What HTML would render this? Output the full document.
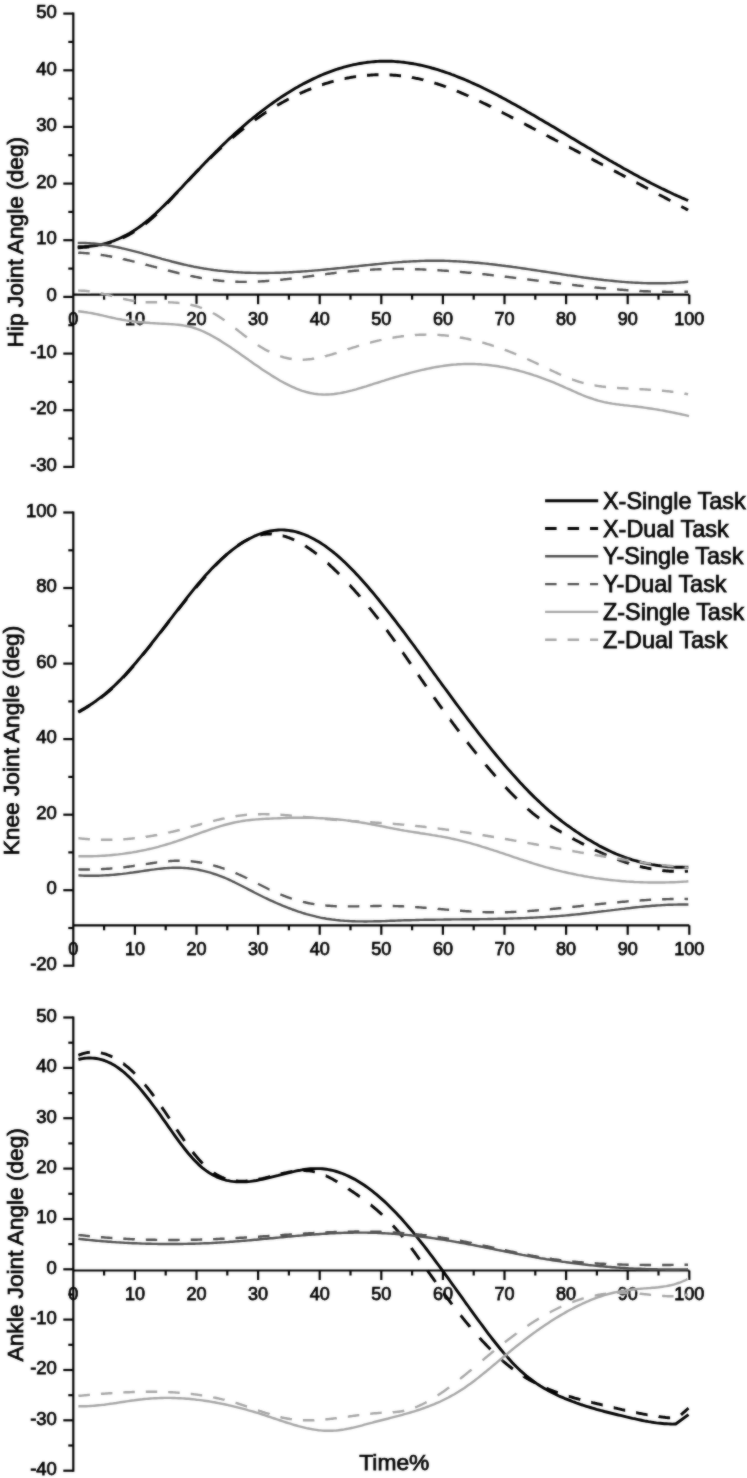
<!DOCTYPE html><html><head><meta charset="utf-8"><style>html,body{margin:0;padding:0;background:#fff;}body{width:747px;height:1478px;overflow:hidden;}svg{display:block;}text{font-family:"Liberation Sans",sans-serif;fill:#000;stroke:#000;stroke-width:0.75px;}</style></head><body>
<svg width="747" height="1478" viewBox="0 0 747 1478">
<defs><filter id="b" x="0" y="0" width="747" height="1478" filterUnits="userSpaceOnUse"><feGaussianBlur in="SourceGraphic" stdDeviation="0.8" result="bl"/><feComposite in="SourceGraphic" in2="bl" operator="arithmetic" k1="0" k2="0.5" k3="0.5" k4="0"/></filter></defs>
<rect width="747" height="1478" fill="#fff"/>
<g filter="url(#b)">
<g><line x1="73.3" y1="12.6" x2="73.3" y2="467.9" stroke="#000" stroke-width="2.2"/><line x1="63.3" y1="466.9" x2="73.3" y2="466.9" stroke="#000" stroke-width="2.2"/><text x="56.9" y="471.1" font-size="18.5" text-anchor="end">-30</text><line x1="68.3" y1="438.5" x2="73.3" y2="438.5" stroke="#000" stroke-width="2.2"/><line x1="63.3" y1="410.2" x2="73.3" y2="410.2" stroke="#000" stroke-width="2.2"/><text x="56.9" y="414.4" font-size="18.5" text-anchor="end">-20</text><line x1="68.3" y1="381.9" x2="73.3" y2="381.9" stroke="#000" stroke-width="2.2"/><line x1="63.3" y1="353.6" x2="73.3" y2="353.6" stroke="#000" stroke-width="2.2"/><text x="56.9" y="357.8" font-size="18.5" text-anchor="end">-10</text><line x1="68.3" y1="325.2" x2="73.3" y2="325.2" stroke="#000" stroke-width="2.2"/><line x1="63.3" y1="296.9" x2="73.3" y2="296.9" stroke="#000" stroke-width="2.2"/><text x="56.9" y="301.1" font-size="18.5" text-anchor="end">0</text><line x1="68.3" y1="268.6" x2="73.3" y2="268.6" stroke="#000" stroke-width="2.2"/><line x1="63.3" y1="240.2" x2="73.3" y2="240.2" stroke="#000" stroke-width="2.2"/><text x="56.9" y="244.4" font-size="18.5" text-anchor="end">10</text><line x1="68.3" y1="211.9" x2="73.3" y2="211.9" stroke="#000" stroke-width="2.2"/><line x1="63.3" y1="183.6" x2="73.3" y2="183.6" stroke="#000" stroke-width="2.2"/><text x="56.9" y="187.8" font-size="18.5" text-anchor="end">20</text><line x1="68.3" y1="155.2" x2="73.3" y2="155.2" stroke="#000" stroke-width="2.2"/><line x1="63.3" y1="126.9" x2="73.3" y2="126.9" stroke="#000" stroke-width="2.2"/><text x="56.9" y="131.1" font-size="18.5" text-anchor="end">30</text><line x1="68.3" y1="98.6" x2="73.3" y2="98.6" stroke="#000" stroke-width="2.2"/><line x1="63.3" y1="70.3" x2="73.3" y2="70.3" stroke="#000" stroke-width="2.2"/><text x="56.9" y="74.5" font-size="18.5" text-anchor="end">40</text><line x1="68.3" y1="41.9" x2="73.3" y2="41.9" stroke="#000" stroke-width="2.2"/><line x1="63.3" y1="13.6" x2="73.3" y2="13.6" stroke="#000" stroke-width="2.2"/><text x="56.9" y="17.8" font-size="18.5" text-anchor="end">50</text><line x1="73.3" y1="294.7" x2="689.3" y2="294.7" stroke="#000" stroke-width="2.2"/><line x1="104.1" y1="294.7" x2="104.1" y2="299.7" stroke="#000" stroke-width="2.2"/><line x1="134.9" y1="294.7" x2="134.9" y2="304.2" stroke="#000" stroke-width="2.2"/><line x1="165.7" y1="294.7" x2="165.7" y2="299.7" stroke="#000" stroke-width="2.2"/><line x1="196.5" y1="294.7" x2="196.5" y2="304.2" stroke="#000" stroke-width="2.2"/><line x1="227.3" y1="294.7" x2="227.3" y2="299.7" stroke="#000" stroke-width="2.2"/><line x1="258.1" y1="294.7" x2="258.1" y2="304.2" stroke="#000" stroke-width="2.2"/><line x1="288.9" y1="294.7" x2="288.9" y2="299.7" stroke="#000" stroke-width="2.2"/><line x1="319.7" y1="294.7" x2="319.7" y2="304.2" stroke="#000" stroke-width="2.2"/><line x1="350.5" y1="294.7" x2="350.5" y2="299.7" stroke="#000" stroke-width="2.2"/><line x1="381.3" y1="294.7" x2="381.3" y2="304.2" stroke="#000" stroke-width="2.2"/><line x1="412.1" y1="294.7" x2="412.1" y2="299.7" stroke="#000" stroke-width="2.2"/><line x1="442.9" y1="294.7" x2="442.9" y2="304.2" stroke="#000" stroke-width="2.2"/><line x1="473.7" y1="294.7" x2="473.7" y2="299.7" stroke="#000" stroke-width="2.2"/><line x1="504.5" y1="294.7" x2="504.5" y2="304.2" stroke="#000" stroke-width="2.2"/><line x1="535.3" y1="294.7" x2="535.3" y2="299.7" stroke="#000" stroke-width="2.2"/><line x1="566.1" y1="294.7" x2="566.1" y2="304.2" stroke="#000" stroke-width="2.2"/><line x1="596.9" y1="294.7" x2="596.9" y2="299.7" stroke="#000" stroke-width="2.2"/><line x1="627.7" y1="294.7" x2="627.7" y2="304.2" stroke="#000" stroke-width="2.2"/><line x1="658.5" y1="294.7" x2="658.5" y2="299.7" stroke="#000" stroke-width="2.2"/><line x1="689.3" y1="294.7" x2="689.3" y2="304.2" stroke="#000" stroke-width="2.2"/><text x="73.3" y="324.5" font-size="18" text-anchor="middle">0</text><text x="134.9" y="324.5" font-size="18" text-anchor="middle">10</text><text x="196.5" y="324.5" font-size="18" text-anchor="middle">20</text><text x="258.1" y="324.5" font-size="18" text-anchor="middle">30</text><text x="319.7" y="324.5" font-size="18" text-anchor="middle">40</text><text x="381.3" y="324.5" font-size="18" text-anchor="middle">50</text><text x="442.9" y="324.5" font-size="18" text-anchor="middle">60</text><text x="504.5" y="324.5" font-size="18" text-anchor="middle">70</text><text x="566.1" y="324.5" font-size="18" text-anchor="middle">80</text><text x="627.7" y="324.5" font-size="18" text-anchor="middle">90</text><text x="689.3" y="324.5" font-size="18" text-anchor="middle">100</text><text transform="translate(23.3,242.2) rotate(-90)" font-size="22.7" text-anchor="middle">Hip Joint Angle (deg)</text></g>
<g><line x1="73.3" y1="511.5" x2="73.3" y2="966.7" stroke="#000" stroke-width="2.2"/><line x1="63.3" y1="965.7" x2="73.3" y2="965.7" stroke="#000" stroke-width="2.2"/><text x="56.9" y="969.9" font-size="18.5" text-anchor="end">-20</text><line x1="68.3" y1="928.0" x2="73.3" y2="928.0" stroke="#000" stroke-width="2.2"/><line x1="63.3" y1="890.2" x2="73.3" y2="890.2" stroke="#000" stroke-width="2.2"/><text x="56.9" y="894.4" font-size="18.5" text-anchor="end">0</text><line x1="68.3" y1="852.4" x2="73.3" y2="852.4" stroke="#000" stroke-width="2.2"/><line x1="63.3" y1="814.7" x2="73.3" y2="814.7" stroke="#000" stroke-width="2.2"/><text x="56.9" y="818.9" font-size="18.5" text-anchor="end">20</text><line x1="68.3" y1="776.9" x2="73.3" y2="776.9" stroke="#000" stroke-width="2.2"/><line x1="63.3" y1="739.1" x2="73.3" y2="739.1" stroke="#000" stroke-width="2.2"/><text x="56.9" y="743.3" font-size="18.5" text-anchor="end">40</text><line x1="68.3" y1="701.4" x2="73.3" y2="701.4" stroke="#000" stroke-width="2.2"/><line x1="63.3" y1="663.6" x2="73.3" y2="663.6" stroke="#000" stroke-width="2.2"/><text x="56.9" y="667.8" font-size="18.5" text-anchor="end">60</text><line x1="68.3" y1="625.8" x2="73.3" y2="625.8" stroke="#000" stroke-width="2.2"/><line x1="63.3" y1="588.0" x2="73.3" y2="588.0" stroke="#000" stroke-width="2.2"/><text x="56.9" y="592.2" font-size="18.5" text-anchor="end">80</text><line x1="68.3" y1="550.3" x2="73.3" y2="550.3" stroke="#000" stroke-width="2.2"/><line x1="63.3" y1="512.5" x2="73.3" y2="512.5" stroke="#000" stroke-width="2.2"/><text x="56.9" y="516.7" font-size="18.5" text-anchor="end">100</text><line x1="73.3" y1="925.3" x2="689.3" y2="925.3" stroke="#000" stroke-width="2.2"/><line x1="104.1" y1="925.3" x2="104.1" y2="930.3" stroke="#000" stroke-width="2.2"/><line x1="134.9" y1="925.3" x2="134.9" y2="934.8" stroke="#000" stroke-width="2.2"/><line x1="165.7" y1="925.3" x2="165.7" y2="930.3" stroke="#000" stroke-width="2.2"/><line x1="196.5" y1="925.3" x2="196.5" y2="934.8" stroke="#000" stroke-width="2.2"/><line x1="227.3" y1="925.3" x2="227.3" y2="930.3" stroke="#000" stroke-width="2.2"/><line x1="258.1" y1="925.3" x2="258.1" y2="934.8" stroke="#000" stroke-width="2.2"/><line x1="288.9" y1="925.3" x2="288.9" y2="930.3" stroke="#000" stroke-width="2.2"/><line x1="319.7" y1="925.3" x2="319.7" y2="934.8" stroke="#000" stroke-width="2.2"/><line x1="350.5" y1="925.3" x2="350.5" y2="930.3" stroke="#000" stroke-width="2.2"/><line x1="381.3" y1="925.3" x2="381.3" y2="934.8" stroke="#000" stroke-width="2.2"/><line x1="412.1" y1="925.3" x2="412.1" y2="930.3" stroke="#000" stroke-width="2.2"/><line x1="442.9" y1="925.3" x2="442.9" y2="934.8" stroke="#000" stroke-width="2.2"/><line x1="473.7" y1="925.3" x2="473.7" y2="930.3" stroke="#000" stroke-width="2.2"/><line x1="504.5" y1="925.3" x2="504.5" y2="934.8" stroke="#000" stroke-width="2.2"/><line x1="535.3" y1="925.3" x2="535.3" y2="930.3" stroke="#000" stroke-width="2.2"/><line x1="566.1" y1="925.3" x2="566.1" y2="934.8" stroke="#000" stroke-width="2.2"/><line x1="596.9" y1="925.3" x2="596.9" y2="930.3" stroke="#000" stroke-width="2.2"/><line x1="627.7" y1="925.3" x2="627.7" y2="934.8" stroke="#000" stroke-width="2.2"/><line x1="658.5" y1="925.3" x2="658.5" y2="930.3" stroke="#000" stroke-width="2.2"/><line x1="689.3" y1="925.3" x2="689.3" y2="934.8" stroke="#000" stroke-width="2.2"/><text x="73.3" y="955.1" font-size="18" text-anchor="middle">0</text><text x="134.9" y="955.1" font-size="18" text-anchor="middle">10</text><text x="196.5" y="955.1" font-size="18" text-anchor="middle">20</text><text x="258.1" y="955.1" font-size="18" text-anchor="middle">30</text><text x="319.7" y="955.1" font-size="18" text-anchor="middle">40</text><text x="381.3" y="955.1" font-size="18" text-anchor="middle">50</text><text x="442.9" y="955.1" font-size="18" text-anchor="middle">60</text><text x="504.5" y="955.1" font-size="18" text-anchor="middle">70</text><text x="566.1" y="955.1" font-size="18" text-anchor="middle">80</text><text x="627.7" y="955.1" font-size="18" text-anchor="middle">90</text><text x="689.3" y="955.1" font-size="18" text-anchor="middle">100</text><text transform="translate(19.0,740.5) rotate(-90)" font-size="22.7" text-anchor="middle">Knee Joint Angle (deg)</text></g>
<g><line x1="73.3" y1="1016.5" x2="73.3" y2="1471.7" stroke="#000" stroke-width="2.2"/><line x1="63.3" y1="1470.7" x2="73.3" y2="1470.7" stroke="#000" stroke-width="2.2"/><text x="56.9" y="1474.9" font-size="18.5" text-anchor="end">-40</text><line x1="68.3" y1="1445.5" x2="73.3" y2="1445.5" stroke="#000" stroke-width="2.2"/><line x1="63.3" y1="1420.3" x2="73.3" y2="1420.3" stroke="#000" stroke-width="2.2"/><text x="56.9" y="1424.5" font-size="18.5" text-anchor="end">-30</text><line x1="68.3" y1="1395.2" x2="73.3" y2="1395.2" stroke="#000" stroke-width="2.2"/><line x1="63.3" y1="1370.0" x2="73.3" y2="1370.0" stroke="#000" stroke-width="2.2"/><text x="56.9" y="1374.2" font-size="18.5" text-anchor="end">-20</text><line x1="68.3" y1="1344.8" x2="73.3" y2="1344.8" stroke="#000" stroke-width="2.2"/><line x1="63.3" y1="1319.6" x2="73.3" y2="1319.6" stroke="#000" stroke-width="2.2"/><text x="56.9" y="1323.8" font-size="18.5" text-anchor="end">-10</text><line x1="68.3" y1="1294.5" x2="73.3" y2="1294.5" stroke="#000" stroke-width="2.2"/><line x1="63.3" y1="1269.3" x2="73.3" y2="1269.3" stroke="#000" stroke-width="2.2"/><text x="56.9" y="1273.5" font-size="18.5" text-anchor="end">0</text><line x1="68.3" y1="1244.1" x2="73.3" y2="1244.1" stroke="#000" stroke-width="2.2"/><line x1="63.3" y1="1219.0" x2="73.3" y2="1219.0" stroke="#000" stroke-width="2.2"/><text x="56.9" y="1223.2" font-size="18.5" text-anchor="end">10</text><line x1="68.3" y1="1193.8" x2="73.3" y2="1193.8" stroke="#000" stroke-width="2.2"/><line x1="63.3" y1="1168.6" x2="73.3" y2="1168.6" stroke="#000" stroke-width="2.2"/><text x="56.9" y="1172.8" font-size="18.5" text-anchor="end">20</text><line x1="68.3" y1="1143.4" x2="73.3" y2="1143.4" stroke="#000" stroke-width="2.2"/><line x1="63.3" y1="1118.2" x2="73.3" y2="1118.2" stroke="#000" stroke-width="2.2"/><text x="56.9" y="1122.5" font-size="18.5" text-anchor="end">30</text><line x1="68.3" y1="1093.1" x2="73.3" y2="1093.1" stroke="#000" stroke-width="2.2"/><line x1="63.3" y1="1067.9" x2="73.3" y2="1067.9" stroke="#000" stroke-width="2.2"/><text x="56.9" y="1072.1" font-size="18.5" text-anchor="end">40</text><line x1="68.3" y1="1042.7" x2="73.3" y2="1042.7" stroke="#000" stroke-width="2.2"/><line x1="63.3" y1="1017.5" x2="73.3" y2="1017.5" stroke="#000" stroke-width="2.2"/><text x="56.9" y="1021.8" font-size="18.5" text-anchor="end">50</text><line x1="73.3" y1="1270.5" x2="689.3" y2="1270.5" stroke="#000" stroke-width="2.2"/><line x1="104.1" y1="1270.5" x2="104.1" y2="1275.5" stroke="#000" stroke-width="2.2"/><line x1="134.9" y1="1270.5" x2="134.9" y2="1280.0" stroke="#000" stroke-width="2.2"/><line x1="165.7" y1="1270.5" x2="165.7" y2="1275.5" stroke="#000" stroke-width="2.2"/><line x1="196.5" y1="1270.5" x2="196.5" y2="1280.0" stroke="#000" stroke-width="2.2"/><line x1="227.3" y1="1270.5" x2="227.3" y2="1275.5" stroke="#000" stroke-width="2.2"/><line x1="258.1" y1="1270.5" x2="258.1" y2="1280.0" stroke="#000" stroke-width="2.2"/><line x1="288.9" y1="1270.5" x2="288.9" y2="1275.5" stroke="#000" stroke-width="2.2"/><line x1="319.7" y1="1270.5" x2="319.7" y2="1280.0" stroke="#000" stroke-width="2.2"/><line x1="350.5" y1="1270.5" x2="350.5" y2="1275.5" stroke="#000" stroke-width="2.2"/><line x1="381.3" y1="1270.5" x2="381.3" y2="1280.0" stroke="#000" stroke-width="2.2"/><line x1="412.1" y1="1270.5" x2="412.1" y2="1275.5" stroke="#000" stroke-width="2.2"/><line x1="442.9" y1="1270.5" x2="442.9" y2="1280.0" stroke="#000" stroke-width="2.2"/><line x1="473.7" y1="1270.5" x2="473.7" y2="1275.5" stroke="#000" stroke-width="2.2"/><line x1="504.5" y1="1270.5" x2="504.5" y2="1280.0" stroke="#000" stroke-width="2.2"/><line x1="535.3" y1="1270.5" x2="535.3" y2="1275.5" stroke="#000" stroke-width="2.2"/><line x1="566.1" y1="1270.5" x2="566.1" y2="1280.0" stroke="#000" stroke-width="2.2"/><line x1="596.9" y1="1270.5" x2="596.9" y2="1275.5" stroke="#000" stroke-width="2.2"/><line x1="627.7" y1="1270.5" x2="627.7" y2="1280.0" stroke="#000" stroke-width="2.2"/><line x1="658.5" y1="1270.5" x2="658.5" y2="1275.5" stroke="#000" stroke-width="2.2"/><line x1="689.3" y1="1270.5" x2="689.3" y2="1280.0" stroke="#000" stroke-width="2.2"/><text x="73.3" y="1300.3" font-size="18" text-anchor="middle">0</text><text x="134.9" y="1300.3" font-size="18" text-anchor="middle">10</text><text x="196.5" y="1300.3" font-size="18" text-anchor="middle">20</text><text x="258.1" y="1300.3" font-size="18" text-anchor="middle">30</text><text x="319.7" y="1300.3" font-size="18" text-anchor="middle">40</text><text x="381.3" y="1300.3" font-size="18" text-anchor="middle">50</text><text x="442.9" y="1300.3" font-size="18" text-anchor="middle">60</text><text x="504.5" y="1300.3" font-size="18" text-anchor="middle">70</text><text x="566.1" y="1300.3" font-size="18" text-anchor="middle">80</text><text x="627.7" y="1300.3" font-size="18" text-anchor="middle">90</text><text x="689.3" y="1300.3" font-size="18" text-anchor="middle">100</text><text transform="translate(23.3,1244.8) rotate(-90)" font-size="22.7" text-anchor="middle">Ankle Joint Angle (deg)</text></g>
<path d="M77.7,246.6 L79.7,246.6 L81.7,246.6 L83.7,246.6 L85.7,246.5 L87.7,246.4 L89.7,246.2 L91.7,246.0 L93.7,245.8 L95.7,245.5 L97.7,245.2 L99.7,244.8 L101.7,244.4 L103.7,243.9 L105.7,243.4 L107.7,242.8 L109.7,242.2 L111.7,241.5 L113.7,240.8 L115.7,240.0 L117.7,239.2 L119.7,238.3 L121.7,237.4 L123.7,236.4 L125.7,235.4 L127.7,234.3 L129.7,233.2 L131.7,232.0 L133.7,230.8 L135.7,229.5 L137.7,228.1 L139.7,226.7 L141.7,225.3 L143.7,223.7 L145.7,222.1 L147.7,220.5 L149.7,218.8 L151.7,217.1 L153.7,215.3 L155.7,213.5 L157.7,211.6 L159.7,209.7 L161.7,207.8 L163.7,205.9 L165.7,203.9 L167.7,201.9 L169.7,199.8 L171.7,197.8 L173.7,195.7 L175.7,193.6 L177.7,191.6 L179.7,189.5 L181.7,187.4 L183.7,185.2 L185.7,183.1 L187.7,181.0 L189.7,178.9 L191.7,176.8 L193.7,174.7 L195.7,172.6 L197.7,170.5 L199.7,168.4 L201.7,166.3 L203.7,164.2 L205.7,162.1 L207.7,160.1 L209.7,158.0 L211.7,156.0 L213.7,154.0 L215.7,151.9 L217.7,150.0 L219.7,148.0 L221.7,146.0 L223.7,144.1 L225.7,142.2 L227.7,140.3 L229.7,138.4 L231.7,136.6 L233.7,134.7 L235.7,132.9 L237.7,131.1 L239.7,129.3 L241.7,127.6 L243.7,125.8 L245.7,124.1 L247.7,122.4 L249.7,120.7 L251.7,119.1 L253.7,117.4 L255.7,115.8 L257.7,114.2 L259.7,112.7 L261.7,111.1 L263.7,109.6 L265.7,108.1 L267.7,106.6 L269.7,105.1 L271.7,103.7 L273.7,102.3 L275.7,100.9 L277.7,99.5 L279.7,98.1 L281.7,96.8 L283.7,95.5 L285.7,94.2 L287.7,92.9 L289.7,91.7 L291.7,90.5 L293.7,89.3 L295.7,88.1 L297.7,87.0 L299.7,85.8 L301.7,84.7 L303.7,83.6 L305.7,82.6 L307.7,81.6 L309.7,80.6 L311.7,79.6 L313.7,78.6 L315.7,77.7 L317.7,76.8 L319.7,75.9 L321.7,75.0 L323.7,74.2 L325.7,73.4 L327.7,72.6 L329.7,71.8 L331.7,71.1 L333.7,70.4 L335.7,69.7 L337.7,69.0 L339.7,68.4 L341.7,67.8 L343.7,67.2 L345.7,66.7 L347.7,66.1 L349.7,65.6 L351.7,65.2 L353.7,64.7 L355.7,64.3 L357.7,63.9 L359.7,63.5 L361.7,63.2 L363.7,62.9 L365.7,62.6 L367.7,62.3 L369.7,62.1 L371.7,61.9 L373.7,61.7 L375.7,61.5 L377.7,61.4 L379.7,61.3 L381.7,61.3 L383.7,61.2 L385.7,61.2 L387.7,61.2 L389.7,61.3 L391.7,61.3 L393.7,61.4 L395.7,61.6 L397.7,61.7 L399.7,61.9 L401.7,62.1 L403.7,62.3 L405.7,62.6 L407.7,62.9 L409.7,63.2 L411.7,63.5 L413.7,63.8 L415.7,64.2 L417.7,64.6 L419.7,65.0 L421.7,65.4 L423.7,65.9 L425.7,66.4 L427.7,66.9 L429.7,67.4 L431.7,68.0 L433.7,68.5 L435.7,69.1 L437.7,69.7 L439.7,70.3 L441.7,71.0 L443.7,71.6 L445.7,72.3 L447.7,73.0 L449.7,73.7 L451.7,74.5 L453.7,75.2 L455.7,76.0 L457.7,76.8 L459.7,77.6 L461.7,78.4 L463.7,79.2 L465.7,80.0 L467.7,80.9 L469.7,81.8 L471.7,82.7 L473.7,83.6 L475.7,84.5 L477.7,85.4 L479.7,86.3 L481.7,87.3 L483.7,88.3 L485.7,89.2 L487.7,90.2 L489.7,91.2 L491.7,92.2 L493.7,93.3 L495.7,94.3 L497.7,95.3 L499.7,96.4 L501.7,97.4 L503.7,98.5 L505.7,99.6 L507.7,100.7 L509.7,101.8 L511.7,102.9 L513.7,104.0 L515.7,105.1 L517.7,106.2 L519.7,107.3 L521.7,108.5 L523.7,109.6 L525.7,110.7 L527.7,111.9 L529.7,113.0 L531.7,114.2 L533.7,115.3 L535.7,116.5 L537.7,117.7 L539.7,118.9 L541.7,120.0 L543.7,121.2 L545.7,122.4 L547.7,123.6 L549.7,124.8 L551.7,125.9 L553.7,127.1 L555.7,128.3 L557.7,129.5 L559.7,130.7 L561.7,131.9 L563.7,133.1 L565.7,134.3 L567.7,135.5 L569.7,136.7 L571.7,137.9 L573.7,139.1 L575.7,140.3 L577.7,141.5 L579.7,142.7 L581.7,143.9 L583.7,145.1 L585.7,146.3 L587.7,147.5 L589.7,148.6 L591.7,149.8 L593.7,151.0 L595.7,152.2 L597.7,153.4 L599.7,154.6 L601.7,155.7 L603.7,156.9 L605.7,158.1 L607.7,159.2 L609.7,160.4 L611.7,161.5 L613.7,162.7 L615.7,163.8 L617.7,165.0 L619.7,166.1 L621.7,167.2 L623.7,168.4 L625.7,169.5 L627.7,170.6 L629.7,171.7 L631.7,172.8 L633.7,173.9 L635.7,175.0 L637.7,176.1 L639.7,177.2 L641.7,178.2 L643.7,179.3 L645.7,180.3 L647.7,181.4 L649.7,182.4 L651.7,183.5 L653.7,184.5 L655.7,185.5 L657.7,186.5 L659.7,187.5 L661.7,188.5 L663.7,189.4 L665.7,190.4 L667.7,191.4 L669.7,192.3 L671.7,193.2 L673.7,194.2 L675.7,195.1 L677.7,196.0 L679.7,196.9 L681.7,197.8 L683.7,198.6 L685.7,199.5 L687.7,200.3 L688.1,200.5" fill="none" stroke="#050505" stroke-width="2.9" stroke-linejoin="round"/>
<path d="M77.7,247.8 L78.2,247.8 L79.2,247.7 L80.2,247.7 L81.2,247.6 L82.2,247.5 L83.2,247.4 L84.2,247.4 L85.2,247.3 L86.2,247.2 L87.2,247.1 L88.2,247.0 L89.2,246.8M100.2,245.1 L100.2,245.1 L101.2,244.9 L102.2,244.6 L103.2,244.4 L104.2,244.2 L105.2,243.9 L106.2,243.7 L107.2,243.4 L108.2,243.1 L109.2,242.8 L110.2,242.5 L111.2,242.2 L111.7,242.1M122.6,237.9 L122.7,237.8 L123.7,237.4 L124.7,236.9 L125.7,236.4 L126.7,235.9 L127.7,235.4 L128.7,234.9 L129.7,234.3 L130.7,233.7 L131.7,233.2 L132.7,232.6 L133.7,232.0 L134.1,231.7M145.1,224.1 L145.2,224.0 L146.2,223.2 L147.2,222.4 L148.2,221.6 L149.2,220.7 L150.2,219.9 L151.2,219.0 L152.2,218.1 L153.2,217.3 L154.2,216.3 L155.2,215.4 L156.2,214.5 L156.6,214.1M167.2,203.2 L167.7,202.7 L168.7,201.6 L169.7,200.6 L170.7,199.5 L171.7,198.4 L172.7,197.3 L173.7,196.2 L174.7,195.1 L175.7,194.0 L176.7,192.9 L177.7,191.8 L177.8,191.7M187.9,180.8 L188.2,180.5 L189.2,179.5 L190.2,178.4 L191.2,177.4 L192.2,176.3 L193.2,175.3 L194.2,174.2 L195.2,173.2 L196.2,172.1 L197.2,171.1 L198.2,170.1 L199.0,169.3M209.9,158.4 L210.2,158.1 L211.2,157.1 L212.2,156.1 L213.2,155.2 L214.2,154.2 L215.2,153.3 L216.2,152.3 L217.2,151.4 L218.2,150.5 L219.2,149.5 L220.2,148.6 L221.2,147.7 L221.4,147.5M232.3,137.8 L232.7,137.5 L233.7,136.6 L234.7,135.8 L235.7,134.9 L236.7,134.1 L237.7,133.3 L238.7,132.5 L239.7,131.6 L240.7,130.8 L241.7,130.0 L242.7,129.2 L243.7,128.5 L243.8,128.4M254.8,120.1 L255.2,119.8 L256.2,119.1 L257.2,118.4 L258.2,117.7 L259.2,117.0 L260.2,116.3 L261.2,115.6 L262.2,114.9 L263.2,114.2 L264.2,113.6 L265.2,112.9 L266.2,112.2 L266.3,112.2M277.2,105.4 L277.7,105.1 L278.7,104.5 L279.7,103.9 L280.7,103.4 L281.7,102.8 L282.7,102.2 L283.7,101.7 L284.7,101.1 L285.7,100.6 L286.7,100.1 L287.7,99.5 L288.7,99.0 L288.7,99.0M299.7,93.6 L299.7,93.6 L300.7,93.1 L301.7,92.7 L302.7,92.2 L303.7,91.8 L304.7,91.4 L305.7,90.9 L306.7,90.5 L307.7,90.1 L308.7,89.7 L309.7,89.3 L310.7,88.9 L311.2,88.7M322.1,84.7 L322.2,84.7 L323.2,84.3 L324.2,84.0 L325.2,83.7 L326.2,83.4 L327.2,83.1 L328.2,82.8 L329.2,82.5 L330.2,82.2 L331.2,81.9 L332.2,81.6 L333.2,81.3 L333.6,81.2M344.6,78.6 L344.7,78.6 L345.7,78.4 L346.7,78.2 L347.7,78.0 L348.7,77.8 L349.7,77.6 L350.7,77.4 L351.7,77.2 L352.7,77.1 L353.7,76.9 L354.7,76.8 L355.7,76.6 L356.1,76.6M367.0,75.3 L367.2,75.3 L368.2,75.2 L369.2,75.2 L370.2,75.1 L371.2,75.0 L372.2,75.0 L373.2,74.9 L374.2,74.9 L375.2,74.8 L376.2,74.8 L377.2,74.8 L378.2,74.8 L378.5,74.8M389.5,74.9 L389.7,74.9 L390.7,75.0 L391.7,75.0 L392.7,75.1 L393.7,75.2 L394.7,75.2 L395.7,75.3 L396.7,75.4 L397.7,75.5 L398.7,75.6 L399.7,75.7 L400.7,75.8 L401.0,75.8M411.9,77.4 L412.2,77.5 L413.2,77.7 L414.2,77.9 L415.2,78.1 L416.2,78.3 L417.2,78.5 L418.2,78.7 L419.2,78.9 L420.2,79.1 L421.2,79.4 L422.2,79.6 L423.2,79.8 L423.4,79.9M434.4,82.9 L434.7,83.0 L435.7,83.4 L436.7,83.7 L437.7,84.0 L438.7,84.3 L439.7,84.6 L440.7,85.0 L441.7,85.3 L442.7,85.7 L443.7,86.0 L444.7,86.4 L445.7,86.7 L445.9,86.8M456.8,91.0 L457.2,91.2 L458.2,91.6 L459.2,92.0 L460.2,92.4 L461.2,92.9 L462.2,93.3 L463.2,93.7 L464.2,94.2 L465.2,94.6 L466.2,95.0 L467.2,95.5 L468.2,95.9 L468.3,96.0M479.3,101.0 L479.7,101.2 L480.7,101.7 L481.7,102.2 L482.7,102.7 L483.7,103.2 L484.7,103.7 L485.7,104.1 L486.7,104.6 L487.7,105.1 L488.7,105.6 L489.7,106.1 L490.7,106.6 L490.8,106.7M501.7,112.2 L502.2,112.4 L503.2,113.0 L504.2,113.5 L505.2,114.0 L506.2,114.5 L507.2,115.0 L508.2,115.5 L509.2,116.0 L510.2,116.6 L511.2,117.1 L512.2,117.6 L513.2,118.1 L513.2,118.1M524.2,123.8 L524.2,123.8 L525.2,124.3 L526.2,124.8 L527.2,125.4 L528.2,125.9 L529.2,126.4 L530.2,126.9 L531.2,127.4 L532.2,128.0 L533.2,128.5 L534.2,129.0 L535.2,129.5 L535.7,129.8M546.6,135.4 L546.7,135.5 L547.7,136.0 L548.7,136.5 L549.7,137.1 L550.7,137.6 L551.7,138.1 L552.7,138.6 L553.7,139.1 L554.7,139.7 L555.7,140.2 L556.7,140.7 L557.7,141.2 L558.1,141.4M569.1,147.2 L569.2,147.2 L570.2,147.7 L571.2,148.3 L572.2,148.8 L573.2,149.3 L574.2,149.8 L575.2,150.4 L576.2,150.9 L577.2,151.4 L578.2,151.9 L579.2,152.5 L580.2,153.0 L580.6,153.2M591.5,158.9 L591.7,159.0 L592.7,159.5 L593.7,160.1 L594.7,160.6 L595.7,161.1 L596.7,161.6 L597.7,162.2 L598.7,162.7 L599.7,163.2 L600.7,163.7 L601.7,164.3 L602.7,164.8 L603.0,164.9M614.0,170.7 L614.2,170.8 L615.2,171.4 L616.2,171.9 L617.2,172.4 L618.2,172.9 L619.2,173.5 L620.2,174.0 L621.2,174.5 L622.2,175.1 L623.2,175.6 L624.2,176.1 L625.2,176.6 L625.5,176.8M636.4,182.6 L636.7,182.7 L637.7,183.3 L638.7,183.8 L639.7,184.3 L640.7,184.8 L641.7,185.4 L642.7,185.9 L643.7,186.4 L644.7,187.0 L645.7,187.5 L646.7,188.0 L647.7,188.6 L647.9,188.7M658.9,194.5 L659.2,194.7 L660.2,195.2 L661.2,195.7 L662.2,196.3 L663.2,196.8 L664.2,197.3 L665.2,197.9 L666.2,198.4 L667.2,198.9 L668.2,199.5 L669.2,200.0 L670.2,200.5 L670.4,200.6M681.3,206.5 L681.7,206.7 L682.7,207.2 L683.7,207.8 L684.7,208.3 L685.7,208.8 L686.7,209.4 L687.7,209.9 L688.0,210.1" fill="none" stroke="#050505" stroke-width="2.9" stroke-linejoin="round" stroke-linecap="butt"/>
<path d="M77.7,242.9 L79.7,242.9 L81.7,242.9 L83.7,242.9 L85.7,243.0 L87.7,243.1 L89.7,243.2 L91.7,243.4 L93.7,243.5 L95.7,243.7 L97.7,243.9 L99.7,244.2 L101.7,244.4 L103.7,244.7 L105.7,245.0 L107.7,245.4 L109.7,245.7 L111.7,246.1 L113.7,246.5 L115.7,246.9 L117.7,247.3 L119.7,247.7 L121.7,248.2 L123.7,248.6 L125.7,249.1 L127.7,249.6 L129.7,250.1 L131.7,250.6 L133.7,251.1 L135.7,251.6 L137.7,252.1 L139.7,252.7 L141.7,253.2 L143.7,253.8 L145.7,254.3 L147.7,254.9 L149.7,255.4 L151.7,256.0 L153.7,256.5 L155.7,257.1 L157.7,257.7 L159.7,258.2 L161.7,258.8 L163.7,259.3 L165.7,259.9 L167.7,260.4 L169.7,260.9 L171.7,261.5 L173.7,262.0 L175.7,262.5 L177.7,263.0 L179.7,263.5 L181.7,264.0 L183.7,264.5 L185.7,264.9 L187.7,265.4 L189.7,265.8 L191.7,266.2 L193.7,266.7 L195.7,267.0 L197.7,267.4 L199.7,267.8 L201.7,268.1 L203.7,268.5 L205.7,268.8 L207.7,269.1 L209.7,269.4 L211.7,269.7 L213.7,270.0 L215.7,270.2 L217.7,270.5 L219.7,270.7 L221.7,270.9 L223.7,271.1 L225.7,271.3 L227.7,271.5 L229.7,271.7 L231.7,271.8 L233.7,272.0 L235.7,272.1 L237.7,272.2 L239.7,272.4 L241.7,272.5 L243.7,272.6 L245.7,272.7 L247.7,272.7 L249.7,272.8 L251.7,272.9 L253.7,272.9 L255.7,272.9 L257.7,273.0 L259.7,273.0 L261.7,273.0 L263.7,273.0 L265.7,273.0 L267.7,273.0 L269.7,272.9 L271.7,272.9 L273.7,272.9 L275.7,272.8 L277.7,272.8 L279.7,272.7 L281.7,272.6 L283.7,272.5 L285.7,272.5 L287.7,272.4 L289.7,272.3 L291.7,272.2 L293.7,272.0 L295.7,271.9 L297.7,271.8 L299.7,271.7 L301.7,271.5 L303.7,271.4 L305.7,271.2 L307.7,271.1 L309.7,270.9 L311.7,270.8 L313.7,270.6 L315.7,270.4 L317.7,270.3 L319.7,270.1 L321.7,269.9 L323.7,269.7 L325.7,269.5 L327.7,269.3 L329.7,269.1 L331.7,268.9 L333.7,268.7 L335.7,268.5 L337.7,268.3 L339.7,268.1 L341.7,267.9 L343.7,267.7 L345.7,267.5 L347.7,267.2 L349.7,267.0 L351.7,266.8 L353.7,266.6 L355.7,266.4 L357.7,266.2 L359.7,265.9 L361.7,265.7 L363.7,265.5 L365.7,265.3 L367.7,265.1 L369.7,264.9 L371.7,264.7 L373.7,264.5 L375.7,264.3 L377.7,264.1 L379.7,263.9 L381.7,263.7 L383.7,263.5 L385.7,263.3 L387.7,263.1 L389.7,262.9 L391.7,262.8 L393.7,262.6 L395.7,262.4 L397.7,262.3 L399.7,262.1 L401.7,262.0 L403.7,261.8 L405.7,261.7 L407.7,261.6 L409.7,261.5 L411.7,261.4 L413.7,261.3 L415.7,261.2 L417.7,261.1 L419.7,261.0 L421.7,260.9 L423.7,260.9 L425.7,260.8 L427.7,260.8 L429.7,260.8 L431.7,260.7 L433.7,260.7 L435.7,260.7 L437.7,260.7 L439.7,260.7 L441.7,260.8 L443.7,260.8 L445.7,260.9 L447.7,260.9 L449.7,261.0 L451.7,261.1 L453.7,261.2 L455.7,261.3 L457.7,261.4 L459.7,261.5 L461.7,261.6 L463.7,261.7 L465.7,261.9 L467.7,262.0 L469.7,262.2 L471.7,262.3 L473.7,262.5 L475.7,262.7 L477.7,262.8 L479.7,263.0 L481.7,263.2 L483.7,263.4 L485.7,263.6 L487.7,263.8 L489.7,264.1 L491.7,264.3 L493.7,264.5 L495.7,264.7 L497.7,265.0 L499.7,265.2 L501.7,265.5 L503.7,265.7 L505.7,266.0 L507.7,266.2 L509.7,266.5 L511.7,266.8 L513.7,267.1 L515.7,267.3 L517.7,267.6 L519.7,267.9 L521.7,268.2 L523.7,268.5 L525.7,268.8 L527.7,269.1 L529.7,269.4 L531.7,269.7 L533.7,270.0 L535.7,270.3 L537.7,270.6 L539.7,270.9 L541.7,271.2 L543.7,271.5 L545.7,271.8 L547.7,272.1 L549.7,272.4 L551.7,272.7 L553.7,273.0 L555.7,273.3 L557.7,273.6 L559.7,273.9 L561.7,274.3 L563.7,274.6 L565.7,274.9 L567.7,275.2 L569.7,275.4 L571.7,275.7 L573.7,276.0 L575.7,276.3 L577.7,276.6 L579.7,276.9 L581.7,277.2 L583.7,277.5 L585.7,277.7 L587.7,278.0 L589.7,278.3 L591.7,278.5 L593.7,278.8 L595.7,279.0 L597.7,279.3 L599.7,279.5 L601.7,279.7 L603.7,280.0 L605.7,280.2 L607.7,280.4 L609.7,280.6 L611.7,280.8 L613.7,281.0 L615.7,281.2 L617.7,281.4 L619.7,281.6 L621.7,281.8 L623.7,281.9 L625.7,282.1 L627.7,282.2 L629.7,282.4 L631.7,282.5 L633.7,282.6 L635.7,282.7 L637.7,282.8 L639.7,282.9 L641.7,283.0 L643.7,283.1 L645.7,283.1 L647.7,283.2 L649.7,283.2 L651.7,283.3 L653.7,283.3 L655.7,283.3 L657.7,283.3 L659.7,283.3 L661.7,283.3 L663.7,283.2 L665.7,283.2 L667.7,283.1 L669.7,283.1 L671.7,283.0 L673.7,282.9 L675.7,282.8 L677.7,282.6 L679.7,282.5 L681.7,282.4 L683.7,282.2 L685.7,282.0 L687.7,281.8 L688.2,281.8" fill="none" stroke="#505050" stroke-width="2.4" stroke-linejoin="round"/>
<path d="M78.2,252.7 L78.7,252.8 L79.7,252.8 L80.7,252.8 L81.7,252.9 L82.7,252.9 L83.7,253.0 L84.7,253.1 L85.7,253.1 L86.7,253.2 L87.7,253.3 L88.7,253.4 L89.7,253.5M100.7,254.8 L100.7,254.8 L101.7,255.0 L102.7,255.1 L103.7,255.3 L104.7,255.4 L105.7,255.6 L106.7,255.8 L107.7,256.0 L108.7,256.1 L109.7,256.3 L110.7,256.5 L111.7,256.7 L112.2,256.8M123.1,259.0 L123.2,259.1 L124.2,259.3 L125.2,259.5 L126.2,259.7 L127.2,260.0 L128.2,260.2 L129.2,260.4 L130.2,260.7 L131.2,260.9 L132.2,261.2 L133.2,261.4 L134.2,261.7 L134.6,261.8M145.6,264.5 L145.7,264.6 L146.7,264.8 L147.7,265.1 L148.7,265.4 L149.7,265.6 L150.7,265.9 L151.7,266.2 L152.7,266.4 L153.7,266.7 L154.7,266.9 L155.7,267.2 L156.7,267.5 L157.1,267.6M168.0,270.4 L168.2,270.5 L169.2,270.7 L170.2,271.0 L171.2,271.3 L172.2,271.5 L173.2,271.8 L174.2,272.0 L175.2,272.3 L176.2,272.5 L177.2,272.8 L178.2,273.0 L179.2,273.3 L179.5,273.3M190.4,275.8 L190.7,275.9 L191.7,276.1 L192.7,276.3 L193.7,276.5 L194.7,276.7 L195.7,276.9 L196.7,277.1 L197.7,277.3 L198.7,277.5 L199.7,277.7 L200.7,277.9 L201.7,278.1 L201.9,278.1M212.9,279.9 L213.2,279.9 L214.2,280.1 L215.2,280.2 L216.2,280.3 L217.2,280.4 L218.2,280.5 L219.2,280.7 L220.2,280.8 L221.2,280.9 L222.2,281.0 L223.2,281.0 L224.2,281.1 L224.4,281.1M235.3,281.8 L235.7,281.8 L236.7,281.8 L237.7,281.8 L238.7,281.9 L239.7,281.9 L240.7,281.9 L241.7,281.9 L242.7,281.9 L243.7,281.9 L244.7,281.9 L245.7,281.9 L246.7,281.9 L246.8,281.9M257.8,281.5 L258.2,281.5 L259.2,281.5 L260.2,281.4 L261.2,281.4 L262.2,281.3 L263.2,281.2 L264.2,281.2 L265.2,281.1 L266.2,281.0 L267.2,281.0 L268.2,280.9 L269.2,280.8 L269.3,280.8M280.2,279.8 L280.7,279.8 L281.7,279.7 L282.7,279.6 L283.7,279.4 L284.7,279.3 L285.7,279.2 L286.7,279.1 L287.7,279.0 L288.7,278.9 L289.7,278.8 L290.7,278.7 L291.7,278.5 L291.7,278.5M302.7,277.2 L302.7,277.2 L303.7,277.0 L304.7,276.9 L305.7,276.8 L306.7,276.6 L307.7,276.5 L308.7,276.4 L309.7,276.2 L310.7,276.1 L311.7,276.0 L312.7,275.8 L313.7,275.7 L314.2,275.6M325.1,274.2 L325.2,274.2 L326.2,274.1 L327.2,273.9 L328.2,273.8 L329.2,273.7 L330.2,273.6 L331.2,273.4 L332.2,273.3 L333.2,273.2 L334.2,273.1 L335.2,272.9 L336.2,272.8 L336.6,272.8M347.6,271.5 L347.7,271.5 L348.7,271.4 L349.7,271.3 L350.7,271.2 L351.7,271.1 L352.7,271.0 L353.7,270.9 L354.7,270.8 L355.7,270.7 L356.7,270.6 L357.7,270.6 L358.7,270.5 L359.1,270.4M370.0,269.7 L370.2,269.7 L371.2,269.6 L372.2,269.6 L373.2,269.5 L374.2,269.5 L375.2,269.4 L376.2,269.4 L377.2,269.4 L378.2,269.3 L379.2,269.3 L380.2,269.2 L381.2,269.2 L381.5,269.2M392.5,269.0 L392.7,269.0 L393.7,269.0 L394.7,268.9 L395.7,268.9 L396.7,268.9 L397.7,268.9 L398.7,268.9 L399.7,268.9 L400.7,268.9 L401.7,268.9 L402.7,269.0 L403.7,269.0 L404.0,269.0M414.9,269.2 L415.2,269.2 L416.2,269.2 L417.2,269.3 L418.2,269.3 L419.2,269.3 L420.2,269.4 L421.2,269.4 L422.2,269.4 L423.2,269.5 L424.2,269.5 L425.2,269.6 L426.2,269.6 L426.4,269.6M437.4,270.2 L437.7,270.2 L438.7,270.3 L439.7,270.4 L440.7,270.4 L441.7,270.5 L442.7,270.6 L443.7,270.6 L444.7,270.7 L445.7,270.8 L446.7,270.8 L447.7,270.9 L448.7,271.0 L448.9,271.0M459.8,271.9 L460.2,271.9 L461.2,272.0 L462.2,272.1 L463.2,272.2 L464.2,272.3 L465.2,272.4 L466.2,272.5 L467.2,272.6 L468.2,272.7 L469.2,272.7 L470.2,272.8 L471.2,272.9 L471.3,273.0M482.3,274.1 L482.7,274.1 L483.7,274.2 L484.7,274.3 L485.7,274.4 L486.7,274.5 L487.7,274.7 L488.7,274.8 L489.7,274.9 L490.7,275.0 L491.7,275.1 L492.7,275.2 L493.7,275.3 L493.8,275.3M504.7,276.6 L505.2,276.7 L506.2,276.8 L507.2,276.9 L508.2,277.0 L509.2,277.1 L510.2,277.3 L511.2,277.4 L512.2,277.5 L513.2,277.6 L514.2,277.8 L515.2,277.9 L516.2,278.0 L516.2,278.0M527.2,279.4 L527.2,279.4 L528.2,279.5 L529.2,279.6 L530.2,279.7 L531.2,279.9 L532.2,280.0 L533.2,280.1 L534.2,280.2 L535.2,280.4 L536.2,280.5 L537.2,280.6 L538.2,280.7 L538.7,280.8M549.6,282.2 L549.7,282.2 L550.7,282.3 L551.7,282.4 L552.7,282.5 L553.7,282.7 L554.7,282.8 L555.7,282.9 L556.7,283.0 L557.7,283.2 L558.7,283.3 L559.7,283.4 L560.7,283.5 L561.1,283.6M572.1,284.9 L572.2,284.9 L573.2,285.0 L574.2,285.1 L575.2,285.2 L576.2,285.3 L577.2,285.5 L578.2,285.6 L579.2,285.7 L580.2,285.8 L581.2,285.9 L582.2,286.0 L583.2,286.1 L583.6,286.2M594.5,287.3 L594.7,287.4 L595.7,287.5 L596.7,287.6 L597.7,287.7 L598.7,287.8 L599.7,287.9 L600.7,288.0 L601.7,288.1 L602.7,288.1 L603.7,288.2 L604.7,288.3 L605.7,288.4 L606.0,288.5M617.0,289.4 L617.2,289.4 L618.2,289.5 L619.2,289.6 L620.2,289.7 L621.2,289.7 L622.2,289.8 L623.2,289.9 L624.2,290.0 L625.2,290.0 L626.2,290.1 L627.2,290.2 L628.2,290.3 L628.5,290.3M639.4,290.9 L639.7,291.0 L640.7,291.0 L641.7,291.1 L642.7,291.1 L643.7,291.2 L644.7,291.2 L645.7,291.3 L646.7,291.3 L647.7,291.3 L648.7,291.4 L649.7,291.4 L650.7,291.5 L650.9,291.5M661.9,291.8 L662.2,291.8 L663.2,291.8 L664.2,291.8 L665.2,291.8 L666.2,291.9 L667.2,291.9 L668.2,291.9 L669.2,291.9 L670.2,291.9 L671.2,291.9 L672.2,291.9 L673.2,291.9 L673.4,291.9M684.4,291.8 L684.7,291.8 L685.7,291.8 L686.7,291.7 L687.7,291.7 L688.0,291.7" fill="none" stroke="#505050" stroke-width="2.4" stroke-linejoin="round" stroke-linecap="butt"/>
<path d="M78.2,311.3 L80.2,311.5 L82.2,311.7 L84.2,312.0 L86.2,312.2 L88.2,312.6 L90.2,312.9 L92.2,313.3 L94.2,313.7 L96.2,314.1 L98.2,314.5 L100.2,315.0 L102.2,315.4 L104.2,315.9 L106.2,316.3 L108.2,316.8 L110.2,317.3 L112.2,317.7 L114.2,318.1 L116.2,318.6 L118.2,319.0 L120.2,319.3 L122.2,319.7 L124.2,320.0 L126.2,320.4 L128.2,320.7 L130.2,320.9 L132.2,321.2 L134.2,321.5 L136.2,321.7 L138.2,321.9 L140.2,322.1 L142.2,322.3 L144.2,322.5 L146.2,322.7 L148.2,322.8 L150.2,323.0 L152.2,323.1 L154.2,323.2 L156.2,323.4 L158.2,323.5 L160.2,323.6 L162.2,323.7 L164.2,323.8 L166.2,323.9 L168.2,324.0 L170.2,324.1 L172.2,324.2 L174.2,324.4 L176.2,324.6 L178.2,324.8 L180.2,325.0 L182.2,325.3 L184.2,325.6 L186.2,326.0 L188.2,326.4 L190.2,326.9 L192.2,327.4 L194.2,328.0 L196.2,328.7 L198.2,329.4 L200.2,330.2 L202.2,331.0 L204.2,331.9 L206.2,332.9 L208.2,333.8 L210.2,334.9 L212.2,336.0 L214.2,337.1 L216.2,338.2 L218.2,339.4 L220.2,340.6 L222.2,341.9 L224.2,343.2 L226.2,344.5 L228.2,345.8 L230.2,347.1 L232.2,348.5 L234.2,349.8 L236.2,351.2 L238.2,352.6 L240.2,354.0 L242.2,355.4 L244.2,356.8 L246.2,358.2 L248.2,359.6 L250.2,361.1 L252.2,362.5 L254.2,363.9 L256.2,365.2 L258.2,366.6 L260.2,368.0 L262.2,369.4 L264.2,370.7 L266.2,372.0 L268.2,373.3 L270.2,374.6 L272.2,375.9 L274.2,377.1 L276.2,378.3 L278.2,379.5 L280.2,380.7 L282.2,381.8 L284.2,382.9 L286.2,383.9 L288.2,384.9 L290.2,385.9 L292.2,386.8 L294.2,387.7 L296.2,388.6 L298.2,389.3 L300.2,390.1 L302.2,390.8 L304.2,391.4 L306.2,392.0 L308.2,392.5 L310.2,393.0 L312.2,393.4 L314.2,393.8 L316.2,394.0 L318.2,394.3 L320.2,394.4 L322.2,394.5 L324.2,394.6 L326.2,394.5 L328.2,394.5 L330.2,394.4 L332.2,394.2 L334.2,394.0 L336.2,393.7 L338.2,393.4 L340.2,393.1 L342.2,392.7 L344.2,392.3 L346.2,391.9 L348.2,391.4 L350.2,390.9 L352.2,390.4 L354.2,389.8 L356.2,389.3 L358.2,388.7 L360.2,388.1 L362.2,387.5 L364.2,386.9 L366.2,386.3 L368.2,385.6 L370.2,385.0 L372.2,384.4 L374.2,383.7 L376.2,383.1 L378.2,382.5 L380.2,381.8 L382.2,381.2 L384.2,380.6 L386.2,379.9 L388.2,379.3 L390.2,378.7 L392.2,378.1 L394.2,377.5 L396.2,376.9 L398.2,376.3 L400.2,375.7 L402.2,375.1 L404.2,374.6 L406.2,374.0 L408.2,373.5 L410.2,372.9 L412.2,372.4 L414.2,371.9 L416.2,371.4 L418.2,370.9 L420.2,370.4 L422.2,369.9 L424.2,369.5 L426.2,369.0 L428.2,368.6 L430.2,368.2 L432.2,367.8 L434.2,367.4 L436.2,367.0 L438.2,366.7 L440.2,366.4 L442.2,366.1 L444.2,365.8 L446.2,365.5 L448.2,365.2 L450.2,365.0 L452.2,364.8 L454.2,364.6 L456.2,364.5 L458.2,364.3 L460.2,364.2 L462.2,364.1 L464.2,364.0 L466.2,364.0 L468.2,364.0 L470.2,364.0 L472.2,364.0 L474.2,364.0 L476.2,364.1 L478.2,364.2 L480.2,364.3 L482.2,364.5 L484.2,364.6 L486.2,364.8 L488.2,365.0 L490.2,365.2 L492.2,365.5 L494.2,365.7 L496.2,366.0 L498.2,366.3 L500.2,366.7 L502.2,367.0 L504.2,367.4 L506.2,367.8 L508.2,368.2 L510.2,368.6 L512.2,369.1 L514.2,369.5 L516.2,370.0 L518.2,370.5 L520.2,371.1 L522.2,371.6 L524.2,372.2 L526.2,372.8 L528.2,373.4 L530.2,374.0 L532.2,374.6 L534.2,375.3 L536.2,375.9 L538.2,376.6 L540.2,377.3 L542.2,378.1 L544.2,378.8 L546.2,379.6 L548.2,380.3 L550.2,381.1 L552.2,381.9 L554.2,382.7 L556.2,383.6 L558.2,384.4 L560.2,385.3 L562.2,386.2 L564.2,387.1 L566.2,388.0 L568.2,388.8 L570.2,389.7 L572.2,390.6 L574.2,391.5 L576.2,392.4 L578.2,393.3 L580.2,394.1 L582.2,395.0 L584.2,395.8 L586.2,396.6 L588.2,397.3 L590.2,398.0 L592.2,398.7 L594.2,399.4 L596.2,400.0 L598.2,400.6 L600.2,401.1 L602.2,401.6 L604.2,402.1 L606.2,402.5 L608.2,402.9 L610.2,403.2 L612.2,403.6 L614.2,403.9 L616.2,404.2 L618.2,404.4 L620.2,404.7 L622.2,404.9 L624.2,405.2 L626.2,405.4 L628.2,405.6 L630.2,405.9 L632.2,406.1 L634.2,406.3 L636.2,406.5 L638.2,406.8 L640.2,407.0 L642.2,407.3 L644.2,407.6 L646.2,407.9 L648.2,408.2 L650.2,408.5 L652.2,408.8 L654.2,409.1 L656.2,409.4 L658.2,409.7 L660.2,410.1 L662.2,410.4 L664.2,410.8 L666.2,411.2 L668.2,411.6 L670.2,412.0 L672.2,412.4 L674.2,412.8 L676.2,413.2 L678.2,413.6 L680.2,414.0 L682.2,414.5 L684.2,414.9 L686.2,415.4 L688.2,415.9 L689.0,416.1" fill="none" stroke="#a6a6a6" stroke-width="2.4" stroke-linejoin="round"/>
<path d="M78.2,290.7 L78.7,290.6 L79.7,290.6 L80.7,290.6 L81.7,290.7 L82.7,290.7 L83.7,290.7 L84.7,290.8 L85.7,290.9 L86.7,291.0 L87.7,291.1 L88.7,291.2 L89.7,291.3M100.7,293.3 L100.7,293.3 L101.7,293.5 L102.7,293.7 L103.7,294.0 L104.7,294.2 L105.7,294.4 L106.7,294.7 L107.7,294.9 L108.7,295.2 L109.7,295.4 L110.7,295.7 L111.7,295.9 L112.2,296.1M123.1,298.8 L123.2,298.8 L124.2,299.1 L125.2,299.3 L126.2,299.5 L127.2,299.7 L128.2,299.9 L129.2,300.1 L130.2,300.3 L131.2,300.5 L132.2,300.7 L133.2,300.9 L134.2,301.0 L134.6,301.1M145.6,302.2 L145.7,302.2 L146.7,302.2 L147.7,302.2 L148.7,302.3 L149.7,302.3 L150.7,302.3 L151.7,302.3 L152.7,302.3 L153.7,302.3 L154.7,302.3 L155.7,302.3 L156.7,302.3 L157.1,302.3M168.0,302.3 L168.2,302.3 L169.2,302.3 L170.2,302.4 L171.2,302.4 L172.2,302.4 L173.2,302.5 L174.2,302.6 L175.2,302.6 L176.2,302.7 L177.2,302.8 L178.2,302.9 L179.2,303.0 L179.5,303.0M190.4,304.7 L190.7,304.8 L191.7,305.0 L192.7,305.3 L193.7,305.5 L194.7,305.8 L195.7,306.0 L196.7,306.3 L197.7,306.6 L198.7,306.9 L199.7,307.3 L200.7,307.6 L201.7,308.0 L201.9,308.1M212.9,313.0 L213.2,313.2 L214.2,313.7 L215.2,314.3 L216.2,314.9 L217.2,315.5 L218.2,316.1 L219.2,316.8 L220.2,317.4 L221.2,318.1 L222.2,318.8 L223.2,319.4 L224.2,320.1 L224.4,320.3M235.3,328.5 L235.7,328.7 L236.7,329.5 L237.7,330.3 L238.7,331.1 L239.7,331.9 L240.7,332.6 L241.7,333.4 L242.7,334.2 L243.7,335.0 L244.7,335.7 L245.7,336.5 L246.7,337.3 L246.8,337.4M257.8,345.1 L258.2,345.4 L259.2,346.0 L260.2,346.6 L261.2,347.2 L262.2,347.8 L263.2,348.4 L264.2,349.0 L265.2,349.6 L266.2,350.1 L267.2,350.6 L268.2,351.1 L269.2,351.6 L269.3,351.7M280.2,356.2 L280.7,356.4 L281.7,356.7 L282.7,357.0 L283.7,357.3 L284.7,357.6 L285.7,357.8 L286.7,358.0 L287.7,358.3 L288.7,358.5 L289.7,358.7 L290.7,358.8 L291.7,359.0 L291.7,359.0M302.7,359.7 L302.7,359.7 L303.7,359.7 L304.7,359.6 L305.7,359.6 L306.7,359.5 L307.7,359.4 L308.7,359.3 L309.7,359.2 L310.7,359.1 L311.7,359.0 L312.7,358.8 L313.7,358.7 L314.2,358.6M325.1,356.3 L325.2,356.2 L326.2,356.0 L327.2,355.7 L328.2,355.4 L329.2,355.2 L330.2,354.9 L331.2,354.6 L332.2,354.3 L333.2,354.0 L334.2,353.7 L335.2,353.4 L336.2,353.1 L336.6,352.9M347.6,349.4 L347.7,349.3 L348.7,349.0 L349.7,348.7 L350.7,348.4 L351.7,348.0 L352.7,347.7 L353.7,347.4 L354.7,347.1 L355.7,346.8 L356.7,346.4 L357.7,346.1 L358.7,345.8 L359.1,345.7M370.0,342.6 L370.2,342.6 L371.2,342.3 L372.2,342.1 L373.2,341.8 L374.2,341.6 L375.2,341.3 L376.2,341.1 L377.2,340.8 L378.2,340.6 L379.2,340.4 L380.2,340.1 L381.2,339.9 L381.5,339.8M392.5,337.7 L392.7,337.7 L393.7,337.5 L394.7,337.4 L395.7,337.2 L396.7,337.0 L397.7,336.9 L398.7,336.8 L399.7,336.6 L400.7,336.5 L401.7,336.3 L402.7,336.2 L403.7,336.1 L404.0,336.1M414.9,335.1 L415.2,335.0 L416.2,335.0 L417.2,334.9 L418.2,334.9 L419.2,334.8 L420.2,334.8 L421.2,334.7 L422.2,334.7 L423.2,334.7 L424.2,334.7 L425.2,334.6 L426.2,334.6 L426.4,334.6M437.4,334.9 L437.7,334.9 L438.7,334.9 L439.7,335.0 L440.7,335.1 L441.7,335.2 L442.7,335.2 L443.7,335.3 L444.7,335.4 L445.7,335.5 L446.7,335.6 L447.7,335.7 L448.7,335.8 L448.9,335.8M459.8,337.4 L460.2,337.5 L461.2,337.7 L462.2,337.8 L463.2,338.0 L464.2,338.2 L465.2,338.4 L466.2,338.6 L467.2,338.8 L468.2,339.0 L469.2,339.2 L470.2,339.5 L471.2,339.7 L471.3,339.7M482.3,342.5 L482.7,342.6 L483.7,342.9 L484.7,343.2 L485.7,343.5 L486.7,343.8 L487.7,344.1 L488.7,344.4 L489.7,344.7 L490.7,345.0 L491.7,345.3 L492.7,345.6 L493.7,346.0 L493.8,346.0M504.7,349.8 L505.2,350.0 L506.2,350.3 L507.2,350.7 L508.2,351.1 L509.2,351.5 L510.2,351.9 L511.2,352.3 L512.2,352.7 L513.2,353.1 L514.2,353.5 L515.2,353.9 L516.2,354.3 L516.2,354.3M527.2,359.0 L527.2,359.0 L528.2,359.5 L529.2,359.9 L530.2,360.4 L531.2,360.8 L532.2,361.3 L533.2,361.7 L534.2,362.2 L535.2,362.7 L536.2,363.1 L537.2,363.6 L538.2,364.1 L538.7,364.3M549.6,369.6 L549.7,369.6 L550.7,370.1 L551.7,370.6 L552.7,371.0 L553.7,371.5 L554.7,372.0 L555.7,372.4 L556.7,372.9 L557.7,373.4 L558.7,373.8 L559.7,374.3 L560.7,374.7 L561.1,374.9M572.1,379.4 L572.2,379.4 L573.2,379.8 L574.2,380.1 L575.2,380.5 L576.2,380.8 L577.2,381.2 L578.2,381.5 L579.2,381.8 L580.2,382.1 L581.2,382.4 L582.2,382.7 L583.2,382.9 L583.6,383.0M594.5,385.4 L594.7,385.4 L595.7,385.6 L596.7,385.8 L597.7,385.9 L598.7,386.1 L599.7,386.2 L600.7,386.3 L601.7,386.5 L602.7,386.6 L603.7,386.7 L604.7,386.8 L605.7,387.0 L606.0,387.0M617.0,387.9 L617.2,387.9 L618.2,388.0 L619.2,388.1 L620.2,388.1 L621.2,388.2 L622.2,388.2 L623.2,388.3 L624.2,388.3 L625.2,388.4 L626.2,388.5 L627.2,388.5 L628.2,388.6 L628.5,388.6M639.4,389.1 L639.7,389.1 L640.7,389.2 L641.7,389.3 L642.7,389.3 L643.7,389.4 L644.7,389.4 L645.7,389.5 L646.7,389.5 L647.7,389.6 L648.7,389.7 L649.7,389.7 L650.7,389.8 L650.9,389.8M661.9,390.7 L662.2,390.7 L663.2,390.8 L664.2,390.9 L665.2,391.0 L666.2,391.1 L667.2,391.2 L668.2,391.3 L669.2,391.4 L670.2,391.5 L671.2,391.7 L672.2,391.8 L673.2,391.9 L673.4,391.9M684.4,393.6 L684.7,393.7 L685.7,393.8 L686.7,394.0 L687.7,394.2 L688.0,394.3" fill="none" stroke="#a6a6a6" stroke-width="2.4" stroke-linejoin="round" stroke-linecap="butt"/>
<path d="M78.3,711.7 L80.3,710.7 L82.3,709.6 L84.3,708.4 L86.3,707.3 L88.3,706.0 L90.3,704.8 L92.3,703.5 L94.3,702.1 L96.3,700.7 L98.3,699.2 L100.3,697.7 L102.3,696.2 L104.3,694.6 L106.3,692.9 L108.3,691.2 L110.3,689.4 L112.3,687.6 L114.3,685.8 L116.3,683.9 L118.3,681.9 L120.3,679.9 L122.3,677.8 L124.3,675.7 L126.3,673.5 L128.3,671.3 L130.3,669.1 L132.3,666.8 L134.3,664.5 L136.3,662.2 L138.3,659.8 L140.3,657.4 L142.3,655.0 L144.3,652.5 L146.3,650.1 L148.3,647.6 L150.3,645.1 L152.3,642.5 L154.3,640.0 L156.3,637.5 L158.3,634.9 L160.3,632.3 L162.3,629.8 L164.3,627.2 L166.3,624.6 L168.3,622.0 L170.3,619.4 L172.3,616.8 L174.3,614.2 L176.3,611.6 L178.3,609.0 L180.3,606.5 L182.3,603.9 L184.3,601.3 L186.3,598.7 L188.3,596.2 L190.3,593.7 L192.3,591.2 L194.3,588.7 L196.3,586.2 L198.3,583.8 L200.3,581.5 L202.3,579.1 L204.3,576.8 L206.3,574.6 L208.3,572.4 L210.3,570.2 L212.3,568.1 L214.3,566.1 L216.3,564.1 L218.3,562.1 L220.3,560.2 L222.3,558.4 L224.3,556.6 L226.3,554.8 L228.3,553.1 L230.3,551.5 L232.3,549.9 L234.3,548.4 L236.3,546.9 L238.3,545.5 L240.3,544.1 L242.3,542.8 L244.3,541.6 L246.3,540.4 L248.3,539.2 L250.3,538.2 L252.3,537.2 L254.3,536.2 L256.3,535.4 L258.3,534.5 L260.3,533.8 L262.3,533.1 L264.3,532.5 L266.3,531.9 L268.3,531.4 L270.3,531.0 L272.3,530.7 L274.3,530.4 L276.3,530.2 L278.3,530.0 L280.3,529.9 L282.3,529.9 L284.3,530.0 L286.3,530.2 L288.3,530.4 L290.3,530.7 L292.3,531.0 L294.3,531.4 L296.3,531.9 L298.3,532.5 L300.3,533.1 L302.3,533.8 L304.3,534.5 L306.3,535.4 L308.3,536.2 L310.3,537.2 L312.3,538.2 L314.3,539.3 L316.3,540.4 L318.3,541.6 L320.3,542.8 L322.3,544.1 L324.3,545.4 L326.3,546.8 L328.3,548.3 L330.3,549.8 L332.3,551.4 L334.3,553.0 L336.3,554.7 L338.3,556.4 L340.3,558.2 L342.3,560.0 L344.3,561.8 L346.3,563.7 L348.3,565.7 L350.3,567.7 L352.3,569.7 L354.3,571.8 L356.3,573.9 L358.3,576.1 L360.3,578.2 L362.3,580.5 L364.3,582.7 L366.3,585.0 L368.3,587.3 L370.3,589.7 L372.3,592.0 L374.3,594.4 L376.3,596.9 L378.3,599.3 L380.3,601.8 L382.3,604.3 L384.3,606.8 L386.3,609.3 L388.3,611.8 L390.3,614.4 L392.3,617.0 L394.3,619.5 L396.3,622.1 L398.3,624.8 L400.3,627.4 L402.3,630.0 L404.3,632.7 L406.3,635.4 L408.3,638.1 L410.3,640.8 L412.3,643.5 L414.3,646.2 L416.3,649.0 L418.3,651.7 L420.3,654.5 L422.3,657.2 L424.3,660.0 L426.3,662.7 L428.3,665.5 L430.3,668.3 L432.3,671.0 L434.3,673.8 L436.3,676.5 L438.3,679.3 L440.3,682.0 L442.3,684.8 L444.3,687.5 L446.3,690.2 L448.3,692.9 L450.3,695.7 L452.3,698.4 L454.3,701.1 L456.3,703.8 L458.3,706.5 L460.3,709.1 L462.3,711.8 L464.3,714.5 L466.3,717.1 L468.3,719.8 L470.3,722.4 L472.3,725.0 L474.3,727.6 L476.3,730.2 L478.3,732.8 L480.3,735.3 L482.3,737.9 L484.3,740.4 L486.3,742.9 L488.3,745.4 L490.3,747.9 L492.3,750.4 L494.3,752.8 L496.3,755.2 L498.3,757.6 L500.3,760.0 L502.3,762.4 L504.3,764.7 L506.3,767.1 L508.3,769.4 L510.3,771.6 L512.3,773.9 L514.3,776.1 L516.3,778.3 L518.3,780.5 L520.3,782.7 L522.3,784.8 L524.3,786.9 L526.3,789.0 L528.3,791.1 L530.3,793.1 L532.3,795.1 L534.3,797.1 L536.3,799.0 L538.3,800.9 L540.3,802.8 L542.3,804.7 L544.3,806.5 L546.3,808.3 L548.3,810.1 L550.3,811.8 L552.3,813.5 L554.3,815.2 L556.3,816.8 L558.3,818.4 L560.3,820.0 L562.3,821.6 L564.3,823.1 L566.3,824.6 L568.3,826.0 L570.3,827.4 L572.3,828.9 L574.3,830.2 L576.3,831.6 L578.3,832.9 L580.3,834.3 L582.3,835.6 L584.3,836.9 L586.3,838.2 L588.3,839.4 L590.3,840.6 L592.3,841.8 L594.3,843.0 L596.3,844.1 L598.3,845.3 L600.3,846.4 L602.3,847.4 L604.3,848.4 L606.3,849.4 L608.3,850.4 L610.3,851.3 L612.3,852.2 L614.3,853.1 L616.3,854.0 L618.3,854.8 L620.3,855.6 L622.3,856.3 L624.3,857.1 L626.3,857.8 L628.3,858.5 L630.3,859.1 L632.3,859.8 L634.3,860.4 L636.3,860.9 L638.3,861.5 L640.3,862.0 L642.3,862.5 L644.3,863.0 L646.3,863.4 L648.3,863.8 L650.3,864.2 L652.3,864.6 L654.3,864.9 L656.3,865.3 L658.3,865.6 L660.3,865.8 L662.3,866.1 L664.3,866.3 L666.3,866.5 L668.3,866.7 L670.3,866.8 L672.3,867.0 L674.3,867.1 L676.3,867.2 L678.3,867.2 L680.3,867.3 L682.3,867.3 L684.3,867.3 L686.3,867.3 L688.3,867.2 L688.4,867.2" fill="none" stroke="#050505" stroke-width="2.9" stroke-linejoin="round"/>
<path d="M78.3,712.3 L78.8,712.0 L79.8,711.5 L80.8,710.9 L81.8,710.3 L82.8,709.7 L83.8,709.2 L84.8,708.6 L85.8,707.9 L86.8,707.3 L87.8,706.7 L88.8,706.1 L89.8,705.4M100.8,697.8 L100.8,697.8 L101.8,697.0 L102.8,696.2 L103.8,695.4 L104.8,694.6 L105.8,693.8 L106.8,693.0 L107.8,692.2 L108.8,691.3 L109.8,690.5 L110.8,689.6 L111.8,688.7 L112.2,688.3M123.1,677.6 L123.3,677.4 L124.3,676.3 L125.3,675.3 L126.3,674.2 L127.3,673.1 L128.3,672.0 L129.3,670.8 L130.3,669.7 L131.3,668.6 L132.3,667.4 L133.3,666.3 L133.4,666.1M142.5,655.2 L142.8,654.8 L143.8,653.6 L144.8,652.4 L145.8,651.1 L146.8,649.9 L147.8,648.6 L148.8,647.4 L149.8,646.1 L150.8,644.8 L151.7,643.7M160.3,632.7 L160.3,632.7 L161.3,631.4 L162.3,630.1 L163.3,628.8 L164.3,627.6 L165.3,626.3 L166.3,625.0 L167.3,623.7 L168.3,622.4 L169.2,621.2M177.7,610.3 L177.8,610.2 L178.8,608.9 L179.8,607.7 L180.8,606.4 L181.8,605.1 L182.8,603.9 L183.8,602.6 L184.8,601.3 L185.8,600.1 L186.8,598.8 L186.8,598.8M195.8,587.8 L195.8,587.8 L196.8,586.6 L197.8,585.4 L198.8,584.2 L199.8,583.0 L200.8,581.8 L201.8,580.6 L202.8,579.5 L203.8,578.3 L204.8,577.2 L205.5,576.3M215.5,565.4 L215.8,565.1 L216.8,564.0 L217.8,563.0 L218.8,562.0 L219.8,561.0 L220.8,560.0 L221.8,559.0 L222.8,558.0 L223.8,557.1 L224.8,556.2 L225.8,555.2 L226.8,554.3 L226.9,554.3M237.8,545.5 L238.3,545.1 L239.3,544.5 L240.3,543.8 L241.3,543.2 L242.3,542.5 L243.3,541.9 L244.3,541.3 L245.3,540.8 L246.3,540.2 L247.3,539.7 L248.3,539.2 L249.3,538.7 L249.3,538.7M260.3,535.0 L260.3,535.0 L261.3,534.8 L262.3,534.6 L263.3,534.4 L264.3,534.3 L265.3,534.2 L266.3,534.1 L267.3,534.1 L268.3,534.0 L269.3,534.0 L270.3,534.0 L271.3,534.0 L271.8,534.1M282.7,535.8 L282.8,535.8 L283.8,536.1 L284.8,536.4 L285.8,536.7 L286.8,537.0 L287.8,537.4 L288.8,537.7 L289.8,538.1 L290.8,538.5 L291.8,538.9 L292.8,539.3 L293.8,539.8 L294.2,540.0M305.2,545.9 L305.3,546.0 L306.3,546.6 L307.3,547.3 L308.3,547.9 L309.3,548.6 L310.3,549.3 L311.3,550.0 L312.3,550.7 L313.3,551.4 L314.3,552.2 L315.3,552.9 L316.3,553.7 L316.7,554.0M327.6,563.2 L327.8,563.3 L328.8,564.2 L329.8,565.1 L330.8,566.1 L331.8,567.0 L332.8,567.9 L333.8,568.9 L334.8,569.9 L335.8,570.8 L336.8,571.8 L337.8,572.8 L338.8,573.8 L339.1,574.1M349.6,585.1 L349.8,585.2 L350.8,586.3 L351.8,587.4 L352.8,588.5 L353.8,589.6 L354.8,590.7 L355.8,591.9 L356.8,593.0 L357.8,594.1 L358.8,595.3 L359.8,596.4 L359.9,596.6M369.2,607.5 L369.3,607.7 L370.3,608.9 L371.3,610.1 L372.3,611.4 L373.3,612.6 L374.3,613.9 L375.3,615.2 L376.3,616.4 L377.3,617.7 L378.3,619.0 L378.3,619.0M386.6,630.0 L386.8,630.2 L387.8,631.5 L388.8,632.9 L389.8,634.3 L390.8,635.6 L391.8,637.0 L392.8,638.4 L393.8,639.8 L394.8,641.2 L395.0,641.5M402.7,652.4 L402.8,652.5 L403.8,654.0 L404.8,655.4 L405.8,656.8 L406.8,658.3 L407.8,659.7 L408.8,661.2 L409.8,662.6 L410.7,663.9M418.3,674.9 L418.3,674.9 L419.3,676.4 L420.3,677.8 L421.3,679.3 L422.3,680.7 L423.3,682.1 L424.3,683.6 L425.3,685.0 L426.2,686.4M434.0,697.3 L434.3,697.8 L435.3,699.2 L436.3,700.6 L437.3,702.0 L438.3,703.4 L439.3,704.8 L440.3,706.2 L441.3,707.5 L442.2,708.8M450.2,719.8 L450.3,719.8 L451.3,721.2 L452.3,722.5 L453.3,723.9 L454.3,725.2 L455.3,726.5 L456.3,727.9 L457.3,729.2 L458.3,730.5 L458.9,731.3M467.3,742.2 L467.8,742.8 L468.8,744.1 L469.8,745.4 L470.8,746.6 L471.8,747.9 L472.8,749.1 L473.8,750.4 L474.8,751.6 L475.8,752.9 L476.5,753.7M485.6,764.7 L485.8,765.0 L486.8,766.1 L487.8,767.3 L488.8,768.5 L489.8,769.6 L490.8,770.8 L491.8,771.9 L492.8,773.1 L493.8,774.2 L494.8,775.4 L495.5,776.2M505.5,787.1 L505.8,787.4 L506.8,788.5 L507.8,789.6 L508.8,790.6 L509.8,791.7 L510.8,792.7 L511.8,793.7 L512.8,794.7 L513.8,795.7 L514.8,796.7 L515.8,797.7 L516.7,798.6M527.6,808.8 L527.8,809.0 L528.8,809.9 L529.8,810.7 L530.8,811.6 L531.8,812.4 L532.8,813.3 L533.8,814.1 L534.8,814.9 L535.8,815.7 L536.8,816.4 L537.8,817.2 L538.8,818.0 L539.1,818.2M550.1,825.6 L550.3,825.7 L551.3,826.3 L552.3,826.9 L553.3,827.5 L554.3,828.1 L555.3,828.7 L556.3,829.3 L557.3,829.9 L558.3,830.4 L559.3,831.0 L560.3,831.6 L561.3,832.2 L561.6,832.3M572.5,838.4 L572.8,838.6 L573.8,839.1 L574.8,839.7 L575.8,840.2 L576.8,840.7 L577.8,841.3 L578.8,841.8 L579.8,842.3 L580.8,842.9 L581.8,843.4 L582.8,843.9 L583.8,844.4 L584.0,844.5M595.0,849.9 L595.3,850.1 L596.3,850.6 L597.3,851.0 L598.3,851.5 L599.3,851.9 L600.3,852.4 L601.3,852.8 L602.3,853.3 L603.3,853.7 L604.3,854.2 L605.3,854.6 L606.3,855.0 L606.5,855.1M617.4,859.4 L617.8,859.6 L618.8,859.9 L619.8,860.3 L620.8,860.7 L621.8,861.0 L622.8,861.4 L623.8,861.7 L624.8,862.0 L625.8,862.4 L626.8,862.7 L627.8,863.0 L628.8,863.3 L628.9,863.4M639.9,866.4 L640.3,866.5 L641.3,866.8 L642.3,867.0 L643.3,867.3 L644.3,867.5 L645.3,867.7 L646.3,867.9 L647.3,868.1 L648.3,868.3 L649.3,868.5 L650.3,868.7 L651.3,868.9 L651.4,868.9M662.3,870.5 L662.8,870.6 L663.8,870.7 L664.8,870.8 L665.8,870.9 L666.8,871.0 L667.8,871.0 L668.8,871.1 L669.8,871.2 L670.8,871.2 L671.8,871.3 L672.8,871.3 L673.8,871.3 L673.8,871.3M684.8,871.3 L684.8,871.3 L685.8,871.2 L686.8,871.2 L687.8,871.1 L688.0,871.1" fill="none" stroke="#050505" stroke-width="2.9" stroke-linejoin="round" stroke-linecap="butt"/>
<path d="M78.4,875.4 L80.4,875.5 L82.4,875.6 L84.4,875.7 L86.4,875.7 L88.4,875.8 L90.4,875.8 L92.4,875.8 L94.4,875.8 L96.4,875.7 L98.4,875.7 L100.4,875.6 L102.4,875.5 L104.4,875.4 L106.4,875.3 L108.4,875.2 L110.4,875.0 L112.4,874.9 L114.4,874.7 L116.4,874.5 L118.4,874.3 L120.4,874.1 L122.4,873.9 L124.4,873.6 L126.4,873.4 L128.4,873.1 L130.4,872.8 L132.4,872.6 L134.4,872.3 L136.4,872.0 L138.4,871.7 L140.4,871.4 L142.4,871.1 L144.4,870.8 L146.4,870.5 L148.4,870.2 L150.4,869.9 L152.4,869.6 L154.4,869.4 L156.4,869.1 L158.4,868.9 L160.4,868.7 L162.4,868.5 L164.4,868.3 L166.4,868.1 L168.4,868.0 L170.4,867.9 L172.4,867.8 L174.4,867.7 L176.4,867.7 L178.4,867.7 L180.4,867.8 L182.4,867.9 L184.4,868.0 L186.4,868.1 L188.4,868.3 L190.4,868.6 L192.4,868.8 L194.4,869.1 L196.4,869.4 L198.4,869.8 L200.4,870.2 L202.4,870.6 L204.4,871.1 L206.4,871.6 L208.4,872.2 L210.4,872.7 L212.4,873.3 L214.4,874.0 L216.4,874.6 L218.4,875.4 L220.4,876.1 L222.4,876.9 L224.4,877.7 L226.4,878.5 L228.4,879.4 L230.4,880.3 L232.4,881.3 L234.4,882.2 L236.4,883.2 L238.4,884.2 L240.4,885.2 L242.4,886.2 L244.4,887.3 L246.4,888.3 L248.4,889.4 L250.4,890.4 L252.4,891.4 L254.4,892.5 L256.4,893.5 L258.4,894.5 L260.4,895.5 L262.4,896.5 L264.4,897.5 L266.4,898.4 L268.4,899.4 L270.4,900.3 L272.4,901.2 L274.4,902.1 L276.4,903.0 L278.4,903.9 L280.4,904.7 L282.4,905.6 L284.4,906.4 L286.4,907.2 L288.4,908.0 L290.4,908.7 L292.4,909.5 L294.4,910.2 L296.4,910.9 L298.4,911.6 L300.4,912.2 L302.4,912.9 L304.4,913.5 L306.4,914.1 L308.4,914.6 L310.4,915.2 L312.4,915.7 L314.4,916.2 L316.4,916.7 L318.4,917.1 L320.4,917.6 L322.4,918.0 L324.4,918.3 L326.4,918.7 L328.4,919.0 L330.4,919.3 L332.4,919.6 L334.4,919.8 L336.4,920.1 L338.4,920.3 L340.4,920.5 L342.4,920.6 L344.4,920.8 L346.4,920.9 L348.4,921.0 L350.4,921.1 L352.4,921.2 L354.4,921.3 L356.4,921.4 L358.4,921.4 L360.4,921.4 L362.4,921.4 L364.4,921.5 L366.4,921.5 L368.4,921.4 L370.4,921.4 L372.4,921.4 L374.4,921.3 L376.4,921.3 L378.4,921.2 L380.4,921.2 L382.4,921.1 L384.4,921.1 L386.4,921.0 L388.4,920.9 L390.4,920.8 L392.4,920.8 L394.4,920.7 L396.4,920.6 L398.4,920.5 L400.4,920.5 L402.4,920.4 L404.4,920.3 L406.4,920.3 L408.4,920.2 L410.4,920.2 L412.4,920.1 L414.4,920.1 L416.4,920.0 L418.4,920.0 L420.4,919.9 L422.4,919.9 L424.4,919.8 L426.4,919.8 L428.4,919.8 L430.4,919.7 L432.4,919.7 L434.4,919.7 L436.4,919.6 L438.4,919.6 L440.4,919.6 L442.4,919.6 L444.4,919.5 L446.4,919.5 L448.4,919.5 L450.4,919.5 L452.4,919.4 L454.4,919.4 L456.4,919.4 L458.4,919.4 L460.4,919.4 L462.4,919.3 L464.4,919.3 L466.4,919.3 L468.4,919.3 L470.4,919.3 L472.4,919.2 L474.4,919.2 L476.4,919.2 L478.4,919.2 L480.4,919.1 L482.4,919.1 L484.4,919.1 L486.4,919.1 L488.4,919.0 L490.4,919.0 L492.4,919.0 L494.4,918.9 L496.4,918.9 L498.4,918.8 L500.4,918.8 L502.4,918.8 L504.4,918.7 L506.4,918.7 L508.4,918.6 L510.4,918.5 L512.4,918.5 L514.4,918.4 L516.4,918.4 L518.4,918.3 L520.4,918.2 L522.4,918.1 L524.4,918.1 L526.4,918.0 L528.4,917.9 L530.4,917.8 L532.4,917.7 L534.4,917.6 L536.4,917.5 L538.4,917.4 L540.4,917.3 L542.4,917.2 L544.4,917.1 L546.4,916.9 L548.4,916.8 L550.4,916.7 L552.4,916.5 L554.4,916.4 L556.4,916.2 L558.4,916.1 L560.4,915.9 L562.4,915.7 L564.4,915.6 L566.4,915.4 L568.4,915.2 L570.4,915.0 L572.4,914.8 L574.4,914.6 L576.4,914.4 L578.4,914.2 L580.4,914.0 L582.4,913.7 L584.4,913.5 L586.4,913.3 L588.4,913.1 L590.4,912.8 L592.4,912.6 L594.4,912.3 L596.4,912.1 L598.4,911.8 L600.4,911.6 L602.4,911.3 L604.4,911.1 L606.4,910.9 L608.4,910.6 L610.4,910.4 L612.4,910.1 L614.4,909.9 L616.4,909.6 L618.4,909.4 L620.4,909.1 L622.4,908.9 L624.4,908.7 L626.4,908.4 L628.4,908.2 L630.4,908.0 L632.4,907.7 L634.4,907.5 L636.4,907.3 L638.4,907.1 L640.4,906.9 L642.4,906.7 L644.4,906.5 L646.4,906.3 L648.4,906.2 L650.4,906.0 L652.4,905.8 L654.4,905.7 L656.4,905.5 L658.4,905.4 L660.4,905.3 L662.4,905.1 L664.4,905.0 L666.4,904.9 L668.4,904.8 L670.4,904.7 L672.4,904.7 L674.4,904.6 L676.4,904.6 L678.4,904.5 L680.4,904.5 L682.4,904.5 L684.4,904.5 L686.4,904.5 L688.4,904.5" fill="none" stroke="#505050" stroke-width="2.4" stroke-linejoin="round"/>
<path d="M78.4,869.4 L78.9,869.4 L79.9,869.5 L80.9,869.5 L81.9,869.5 L82.9,869.5 L83.9,869.5 L84.9,869.5 L85.9,869.5 L86.9,869.5 L87.9,869.5 L88.9,869.5 L89.9,869.5M100.9,869.1 L100.9,869.1 L101.9,869.1 L102.9,869.0 L103.9,869.0 L104.9,868.9 L105.9,868.9 L106.9,868.8 L107.9,868.7 L108.9,868.7 L109.9,868.6 L110.9,868.5 L111.9,868.4 L112.4,868.4M123.3,867.3 L123.4,867.3 L124.4,867.2 L125.4,867.1 L126.4,866.9 L127.4,866.8 L128.4,866.7 L129.4,866.5 L130.4,866.4 L131.4,866.3 L132.4,866.1 L133.4,866.0 L134.4,865.8 L134.8,865.8M145.8,864.1 L145.9,864.1 L146.9,863.9 L147.9,863.8 L148.9,863.6 L149.9,863.5 L150.9,863.3 L151.9,863.2 L152.9,863.0 L153.9,862.9 L154.9,862.7 L155.9,862.6 L156.9,862.4 L157.2,862.4M168.2,861.2 L168.4,861.2 L169.4,861.1 L170.4,861.0 L171.4,861.0 L172.4,860.9 L173.4,860.9 L174.4,860.8 L175.4,860.8 L176.4,860.8 L177.4,860.7 L178.4,860.7 L179.4,860.7 L179.7,860.7M190.7,861.3 L190.9,861.3 L191.9,861.4 L192.9,861.5 L193.9,861.6 L194.9,861.7 L195.9,861.9 L196.9,862.0 L197.9,862.2 L198.9,862.3 L199.9,862.5 L200.9,862.6 L201.9,862.8 L202.2,862.9M213.1,865.3 L213.4,865.4 L214.4,865.7 L215.4,866.0 L216.4,866.2 L217.4,866.5 L218.4,866.8 L219.4,867.1 L220.4,867.4 L221.4,867.8 L222.4,868.1 L223.4,868.4 L224.4,868.8 L224.6,868.8M235.5,873.0 L235.9,873.2 L236.9,873.6 L237.9,874.0 L238.9,874.5 L239.9,874.9 L240.9,875.4 L241.9,875.8 L242.9,876.3 L243.9,876.7 L244.9,877.2 L245.9,877.7 L246.9,878.2 L247.0,878.3M258.0,883.8 L258.4,884.0 L259.4,884.5 L260.4,885.0 L261.4,885.5 L262.4,886.0 L263.4,886.5 L264.4,887.0 L265.4,887.5 L266.4,888.0 L267.4,888.5 L268.4,889.0 L269.4,889.5 L269.5,889.5M280.4,894.4 L280.9,894.6 L281.9,895.0 L282.9,895.4 L283.9,895.8 L284.9,896.2 L285.9,896.6 L286.9,897.0 L287.9,897.3 L288.9,897.7 L289.9,898.0 L290.9,898.4 L291.9,898.7 L291.9,898.7M302.9,901.8 L302.9,901.8 L303.9,902.1 L304.9,902.3 L305.9,902.5 L306.9,902.8 L307.9,903.0 L308.9,903.2 L309.9,903.4 L310.9,903.6 L311.9,903.7 L312.9,903.9 L313.9,904.1 L314.4,904.2M325.3,905.5 L325.4,905.5 L326.4,905.6 L327.4,905.7 L328.4,905.8 L329.4,905.8 L330.4,905.9 L331.4,906.0 L332.4,906.0 L333.4,906.1 L334.4,906.1 L335.4,906.2 L336.4,906.2 L336.8,906.2M347.8,906.4 L347.9,906.4 L348.9,906.4 L349.9,906.4 L350.9,906.4 L351.9,906.4 L352.9,906.4 L353.9,906.4 L354.9,906.4 L355.9,906.4 L356.9,906.4 L357.9,906.4 L358.9,906.3 L359.3,906.3M370.2,906.1 L370.4,906.1 L371.4,906.1 L372.4,906.1 L373.4,906.0 L374.4,906.0 L375.4,906.0 L376.4,906.0 L377.4,906.0 L378.4,906.0 L379.4,905.9 L380.4,905.9 L381.4,905.9 L381.7,905.9M392.7,906.0 L392.9,906.0 L393.9,906.0 L394.9,906.1 L395.9,906.1 L396.9,906.1 L397.9,906.1 L398.9,906.2 L399.9,906.2 L400.9,906.3 L401.9,906.3 L402.9,906.3 L403.9,906.4 L404.2,906.4M415.1,907.1 L415.4,907.1 L416.4,907.1 L417.4,907.2 L418.4,907.3 L419.4,907.4 L420.4,907.4 L421.4,907.5 L422.4,907.6 L423.4,907.7 L424.4,907.7 L425.4,907.8 L426.4,907.9 L426.6,907.9M437.6,908.8 L437.9,908.9 L438.9,909.0 L439.9,909.0 L440.9,909.1 L441.9,909.2 L442.9,909.3 L443.9,909.4 L444.9,909.5 L445.9,909.6 L446.9,909.6 L447.9,909.7 L448.9,909.8 L449.1,909.8M460.0,910.7 L460.4,910.7 L461.4,910.8 L462.4,910.9 L463.4,911.0 L464.4,911.0 L465.4,911.1 L466.4,911.2 L467.4,911.3 L468.4,911.3 L469.4,911.4 L470.4,911.4 L471.4,911.5 L471.5,911.5M482.5,912.1 L482.9,912.1 L483.9,912.1 L484.9,912.1 L485.9,912.2 L486.9,912.2 L487.9,912.2 L488.9,912.2 L489.9,912.3 L490.9,912.3 L491.9,912.3 L492.9,912.3 L493.9,912.3 L494.0,912.3M504.9,912.2 L505.4,912.2 L506.4,912.2 L507.4,912.2 L508.4,912.1 L509.4,912.1 L510.4,912.1 L511.4,912.0 L512.4,912.0 L513.4,912.0 L514.4,911.9 L515.4,911.9 L516.4,911.8 L516.4,911.8M527.4,911.2 L527.4,911.2 L528.4,911.1 L529.4,911.0 L530.4,910.9 L531.4,910.9 L532.4,910.8 L533.4,910.7 L534.4,910.6 L535.4,910.5 L536.4,910.5 L537.4,910.4 L538.4,910.3 L538.9,910.3M549.8,909.2 L549.9,909.2 L550.9,909.1 L551.9,909.0 L552.9,908.9 L553.9,908.8 L554.9,908.7 L555.9,908.6 L556.9,908.5 L557.9,908.4 L558.9,908.3 L559.9,908.2 L560.9,908.1 L561.3,908.1M572.3,906.9 L572.4,906.9 L573.4,906.8 L574.4,906.7 L575.4,906.6 L576.4,906.5 L577.4,906.4 L578.4,906.3 L579.4,906.2 L580.4,906.1 L581.4,905.9 L582.4,905.8 L583.4,905.7 L583.8,905.7M594.7,904.5 L594.9,904.5 L595.9,904.4 L596.9,904.3 L597.9,904.2 L598.9,904.1 L599.9,904.0 L600.9,903.9 L601.9,903.8 L602.9,903.7 L603.9,903.6 L604.9,903.5 L605.9,903.4 L606.2,903.4M617.2,902.3 L617.4,902.3 L618.4,902.2 L619.4,902.1 L620.4,902.0 L621.4,901.9 L622.4,901.8 L623.4,901.7 L624.4,901.7 L625.4,901.6 L626.4,901.5 L627.4,901.4 L628.4,901.3 L628.7,901.3M639.6,900.5 L639.9,900.5 L640.9,900.4 L641.9,900.3 L642.9,900.3 L643.9,900.2 L644.9,900.1 L645.9,900.1 L646.9,900.0 L647.9,899.9 L648.9,899.9 L649.9,899.8 L650.9,899.8 L651.1,899.8M662.1,899.3 L662.4,899.3 L663.4,899.2 L664.4,899.2 L665.4,899.2 L666.4,899.1 L667.4,899.1 L668.4,899.1 L669.4,899.1 L670.4,899.0 L671.4,899.0 L672.4,899.0 L673.4,899.0 L673.6,899.0M684.5,898.9 L684.9,898.9 L685.9,899.0 L686.9,899.0 L687.9,899.0 L688.0,899.0" fill="none" stroke="#505050" stroke-width="2.4" stroke-linejoin="round" stroke-linecap="butt"/>
<path d="M78.4,856.2 L80.4,856.2 L82.4,856.3 L84.4,856.3 L86.4,856.3 L88.4,856.3 L90.4,856.2 L92.4,856.2 L94.4,856.1 L96.4,856.1 L98.4,856.0 L100.4,855.9 L102.4,855.8 L104.4,855.7 L106.4,855.5 L108.4,855.4 L110.4,855.2 L112.4,855.0 L114.4,854.8 L116.4,854.6 L118.4,854.4 L120.4,854.1 L122.4,853.9 L124.4,853.6 L126.4,853.3 L128.4,853.0 L130.4,852.7 L132.4,852.4 L134.4,852.0 L136.4,851.7 L138.4,851.3 L140.4,850.9 L142.4,850.5 L144.4,850.1 L146.4,849.7 L148.4,849.2 L150.4,848.8 L152.4,848.3 L154.4,847.8 L156.4,847.3 L158.4,846.8 L160.4,846.2 L162.4,845.7 L164.4,845.1 L166.4,844.5 L168.4,843.9 L170.4,843.3 L172.4,842.7 L174.4,842.0 L176.4,841.4 L178.4,840.7 L180.4,840.0 L182.4,839.3 L184.4,838.6 L186.4,837.9 L188.4,837.2 L190.4,836.5 L192.4,835.8 L194.4,835.0 L196.4,834.3 L198.4,833.6 L200.4,832.9 L202.4,832.2 L204.4,831.5 L206.4,830.8 L208.4,830.1 L210.4,829.4 L212.4,828.7 L214.4,828.1 L216.4,827.4 L218.4,826.8 L220.4,826.2 L222.4,825.6 L224.4,825.0 L226.4,824.5 L228.4,824.0 L230.4,823.5 L232.4,823.0 L234.4,822.5 L236.4,822.1 L238.4,821.7 L240.4,821.4 L242.4,821.0 L244.4,820.7 L246.4,820.4 L248.4,820.2 L250.4,820.0 L252.4,819.8 L254.4,819.6 L256.4,819.4 L258.4,819.3 L260.4,819.1 L262.4,819.0 L264.4,818.9 L266.4,818.8 L268.4,818.7 L270.4,818.6 L272.4,818.5 L274.4,818.4 L276.4,818.4 L278.4,818.3 L280.4,818.2 L282.4,818.1 L284.4,818.1 L286.4,818.0 L288.4,817.9 L290.4,817.9 L292.4,817.8 L294.4,817.8 L296.4,817.8 L298.4,817.7 L300.4,817.7 L302.4,817.7 L304.4,817.7 L306.4,817.7 L308.4,817.8 L310.4,817.8 L312.4,817.8 L314.4,817.9 L316.4,818.0 L318.4,818.1 L320.4,818.2 L322.4,818.3 L324.4,818.4 L326.4,818.5 L328.4,818.6 L330.4,818.8 L332.4,818.9 L334.4,819.1 L336.4,819.3 L338.4,819.5 L340.4,819.7 L342.4,819.9 L344.4,820.1 L346.4,820.4 L348.4,820.6 L350.4,820.9 L352.4,821.2 L354.4,821.4 L356.4,821.7 L358.4,822.1 L360.4,822.4 L362.4,822.7 L364.4,823.0 L366.4,823.4 L368.4,823.8 L370.4,824.1 L372.4,824.5 L374.4,824.9 L376.4,825.3 L378.4,825.6 L380.4,826.0 L382.4,826.4 L384.4,826.8 L386.4,827.2 L388.4,827.6 L390.4,828.0 L392.4,828.4 L394.4,828.8 L396.4,829.1 L398.4,829.5 L400.4,829.9 L402.4,830.2 L404.4,830.6 L406.4,830.9 L408.4,831.3 L410.4,831.6 L412.4,831.9 L414.4,832.2 L416.4,832.5 L418.4,832.8 L420.4,833.2 L422.4,833.5 L424.4,833.8 L426.4,834.1 L428.4,834.4 L430.4,834.7 L432.4,835.1 L434.4,835.4 L436.4,835.7 L438.4,836.1 L440.4,836.4 L442.4,836.8 L444.4,837.1 L446.4,837.5 L448.4,837.9 L450.4,838.3 L452.4,838.8 L454.4,839.2 L456.4,839.6 L458.4,840.1 L460.4,840.6 L462.4,841.1 L464.4,841.6 L466.4,842.1 L468.4,842.7 L470.4,843.2 L472.4,843.8 L474.4,844.4 L476.4,844.9 L478.4,845.5 L480.4,846.1 L482.4,846.8 L484.4,847.4 L486.4,848.0 L488.4,848.6 L490.4,849.3 L492.4,849.9 L494.4,850.6 L496.4,851.2 L498.4,851.9 L500.4,852.6 L502.4,853.2 L504.4,853.9 L506.4,854.6 L508.4,855.2 L510.4,855.9 L512.4,856.6 L514.4,857.3 L516.4,857.9 L518.4,858.6 L520.4,859.3 L522.4,859.9 L524.4,860.6 L526.4,861.2 L528.4,861.9 L530.4,862.5 L532.4,863.2 L534.4,863.8 L536.4,864.4 L538.4,865.0 L540.4,865.6 L542.4,866.2 L544.4,866.8 L546.4,867.4 L548.4,867.9 L550.4,868.5 L552.4,869.0 L554.4,869.6 L556.4,870.1 L558.4,870.6 L560.4,871.1 L562.4,871.6 L564.4,872.0 L566.4,872.5 L568.4,873.0 L570.4,873.4 L572.4,873.8 L574.4,874.2 L576.4,874.7 L578.4,875.1 L580.4,875.4 L582.4,875.8 L584.4,876.2 L586.4,876.5 L588.4,876.9 L590.4,877.2 L592.4,877.5 L594.4,877.9 L596.4,878.2 L598.4,878.4 L600.4,878.7 L602.4,879.0 L604.4,879.3 L606.4,879.5 L608.4,879.8 L610.4,880.0 L612.4,880.2 L614.4,880.4 L616.4,880.6 L618.4,880.8 L620.4,881.0 L622.4,881.2 L624.4,881.3 L626.4,881.5 L628.4,881.6 L630.4,881.7 L632.4,881.8 L634.4,882.0 L636.4,882.1 L638.4,882.1 L640.4,882.2 L642.4,882.3 L644.4,882.4 L646.4,882.4 L648.4,882.5 L650.4,882.5 L652.4,882.5 L654.4,882.5 L656.4,882.5 L658.4,882.5 L660.4,882.5 L662.4,882.5 L664.4,882.5 L666.4,882.4 L668.4,882.4 L670.4,882.3 L672.4,882.2 L674.4,882.2 L676.4,882.1 L678.4,882.0 L680.4,881.9 L682.4,881.7 L684.4,881.6 L686.4,881.5 L688.4,881.3" fill="none" stroke="#a6a6a6" stroke-width="2.4" stroke-linejoin="round"/>
<path d="M78.4,838.2 L78.9,838.2 L79.9,838.4 L80.9,838.5 L81.9,838.6 L82.9,838.7 L83.9,838.8 L84.9,838.9 L85.9,839.0 L86.9,839.0 L87.9,839.1 L88.9,839.2 L89.9,839.3M100.9,839.8 L100.9,839.8 L101.9,839.8 L102.9,839.8 L103.9,839.8 L104.9,839.8 L105.9,839.8 L106.9,839.8 L107.9,839.8 L108.9,839.8 L109.9,839.8 L110.9,839.8 L111.9,839.8 L112.4,839.8M123.3,839.3 L123.4,839.3 L124.4,839.2 L125.4,839.1 L126.4,839.1 L127.4,839.0 L128.4,838.9 L129.4,838.8 L130.4,838.7 L131.4,838.6 L132.4,838.5 L133.4,838.4 L134.4,838.3 L134.8,838.3M145.8,836.9 L145.9,836.8 L146.9,836.7 L147.9,836.5 L148.9,836.4 L149.9,836.2 L150.9,836.0 L151.9,835.9 L152.9,835.7 L153.9,835.5 L154.9,835.3 L155.9,835.2 L156.9,835.0 L157.2,834.9M168.2,832.7 L168.4,832.6 L169.4,832.4 L170.4,832.2 L171.4,831.9 L172.4,831.7 L173.4,831.5 L174.4,831.2 L175.4,831.0 L176.4,830.7 L177.4,830.5 L178.4,830.2 L179.4,830.0 L179.7,829.9M190.7,827.0 L190.9,826.9 L191.9,826.6 L192.9,826.4 L193.9,826.1 L194.9,825.8 L195.9,825.6 L196.9,825.3 L197.9,825.0 L198.9,824.7 L199.9,824.5 L200.9,824.2 L201.9,823.9 L202.2,823.9M213.1,821.0 L213.4,820.9 L214.4,820.7 L215.4,820.4 L216.4,820.2 L217.4,819.9 L218.4,819.7 L219.4,819.5 L220.4,819.2 L221.4,819.0 L222.4,818.8 L223.4,818.6 L224.4,818.4 L224.6,818.3M235.5,816.3 L235.9,816.2 L236.9,816.0 L237.9,815.9 L238.9,815.7 L239.9,815.6 L240.9,815.5 L241.9,815.4 L242.9,815.2 L243.9,815.1 L244.9,815.0 L245.9,814.9 L246.9,814.8 L247.0,814.8M258.0,814.2 L258.4,814.2 L259.4,814.2 L260.4,814.2 L261.4,814.1 L262.4,814.1 L263.4,814.1 L264.4,814.1 L265.4,814.1 L266.4,814.2 L267.4,814.2 L268.4,814.2 L269.4,814.2 L269.5,814.2M280.4,814.8 L280.9,814.8 L281.9,814.9 L282.9,814.9 L283.9,815.0 L284.9,815.1 L285.9,815.2 L286.9,815.2 L287.9,815.3 L288.9,815.4 L289.9,815.5 L290.9,815.6 L291.9,815.7 L291.9,815.7M302.9,816.8 L302.9,816.8 L303.9,816.9 L304.9,817.0 L305.9,817.1 L306.9,817.2 L307.9,817.3 L308.9,817.4 L309.9,817.5 L310.9,817.6 L311.9,817.7 L312.9,817.8 L313.9,817.9 L314.4,818.0M325.3,819.0 L325.4,819.1 L326.4,819.1 L327.4,819.2 L328.4,819.3 L329.4,819.4 L330.4,819.5 L331.4,819.6 L332.4,819.7 L333.4,819.7 L334.4,819.8 L335.4,819.9 L336.4,820.0 L336.8,820.0M347.8,820.8 L347.9,820.8 L348.9,820.9 L349.9,820.9 L350.9,821.0 L351.9,821.1 L352.9,821.1 L353.9,821.2 L354.9,821.3 L355.9,821.3 L356.9,821.4 L357.9,821.5 L358.9,821.5 L359.3,821.6M370.2,822.3 L370.4,822.3 L371.4,822.3 L372.4,822.4 L373.4,822.5 L374.4,822.5 L375.4,822.6 L376.4,822.7 L377.4,822.7 L378.4,822.8 L379.4,822.9 L380.4,822.9 L381.4,823.0 L381.7,823.0M392.7,823.8 L392.9,823.8 L393.9,823.9 L394.9,824.0 L395.9,824.1 L396.9,824.1 L397.9,824.2 L398.9,824.3 L399.9,824.4 L400.9,824.5 L401.9,824.6 L402.9,824.6 L403.9,824.7 L404.2,824.8M415.1,825.8 L415.4,825.9 L416.4,826.0 L417.4,826.1 L418.4,826.2 L419.4,826.3 L420.4,826.4 L421.4,826.5 L422.4,826.6 L423.4,826.7 L424.4,826.8 L425.4,827.0 L426.4,827.1 L426.6,827.1M437.6,828.5 L437.9,828.5 L438.9,828.6 L439.9,828.8 L440.9,828.9 L441.9,829.0 L442.9,829.2 L443.9,829.3 L444.9,829.4 L445.9,829.6 L446.9,829.7 L447.9,829.8 L448.9,830.0 L449.1,830.0M460.0,831.6 L460.4,831.6 L461.4,831.8 L462.4,831.9 L463.4,832.1 L464.4,832.2 L465.4,832.4 L466.4,832.5 L467.4,832.7 L468.4,832.8 L469.4,833.0 L470.4,833.2 L471.4,833.3 L471.5,833.3M482.5,835.1 L482.9,835.2 L483.9,835.3 L484.9,835.5 L485.9,835.7 L486.9,835.8 L487.9,836.0 L488.9,836.2 L489.9,836.3 L490.9,836.5 L491.9,836.7 L492.9,836.8 L493.9,837.0 L494.0,837.0M504.9,838.9 L505.4,839.0 L506.4,839.2 L507.4,839.3 L508.4,839.5 L509.4,839.7 L510.4,839.9 L511.4,840.0 L512.4,840.2 L513.4,840.4 L514.4,840.6 L515.4,840.7 L516.4,840.9 L516.4,840.9M527.4,842.9 L527.4,842.9 L528.4,843.1 L529.4,843.3 L530.4,843.4 L531.4,843.6 L532.4,843.8 L533.4,844.0 L534.4,844.2 L535.4,844.3 L536.4,844.5 L537.4,844.7 L538.4,844.9 L538.9,845.0M549.8,847.0 L549.9,847.0 L550.9,847.2 L551.9,847.3 L552.9,847.5 L553.9,847.7 L554.9,847.9 L555.9,848.1 L556.9,848.2 L557.9,848.4 L558.9,848.6 L559.9,848.8 L560.9,849.0 L561.3,849.0M572.3,851.0 L572.4,851.0 L573.4,851.2 L574.4,851.4 L575.4,851.6 L576.4,851.7 L577.4,851.9 L578.4,852.1 L579.4,852.3 L580.4,852.5 L581.4,852.6 L582.4,852.8 L583.4,853.0 L583.8,853.1M594.7,854.9 L594.9,855.0 L595.9,855.1 L596.9,855.3 L597.9,855.5 L598.9,855.6 L599.9,855.8 L600.9,856.0 L601.9,856.2 L602.9,856.3 L603.9,856.5 L604.9,856.7 L605.9,856.8 L606.2,856.9M617.2,858.6 L617.4,858.7 L618.4,858.8 L619.4,859.0 L620.4,859.1 L621.4,859.3 L622.4,859.5 L623.4,859.6 L624.4,859.8 L625.4,859.9 L626.4,860.1 L627.4,860.2 L628.4,860.4 L628.7,860.4M639.6,862.0 L639.9,862.0 L640.9,862.2 L641.9,862.3 L642.9,862.5 L643.9,862.6 L644.9,862.7 L645.9,862.9 L646.9,863.0 L647.9,863.1 L648.9,863.3 L649.9,863.4 L650.9,863.5 L651.1,863.6M662.1,864.9 L662.4,865.0 L663.4,865.1 L664.4,865.2 L665.4,865.3 L666.4,865.4 L667.4,865.6 L668.4,865.7 L669.4,865.8 L670.4,865.9 L671.4,866.0 L672.4,866.1 L673.4,866.2 L673.6,866.2M684.5,867.3 L684.9,867.4 L685.9,867.5 L686.9,867.6 L687.9,867.6 L688.0,867.6" fill="none" stroke="#a6a6a6" stroke-width="2.4" stroke-linejoin="round" stroke-linecap="butt"/>
<path d="M78.4,1059.5 L80.4,1059.0 L82.4,1058.6 L84.4,1058.3 L86.4,1058.1 L88.4,1058.0 L90.4,1058.0 L92.4,1058.1 L94.4,1058.2 L96.4,1058.5 L98.4,1058.9 L100.4,1059.3 L102.4,1059.9 L104.4,1060.5 L106.4,1061.3 L108.4,1062.2 L110.4,1063.1 L112.4,1064.2 L114.4,1065.3 L116.4,1066.6 L118.4,1068.0 L120.4,1069.5 L122.4,1071.0 L124.4,1072.7 L126.4,1074.5 L128.4,1076.3 L130.4,1078.3 L132.4,1080.3 L134.4,1082.4 L136.4,1084.6 L138.4,1086.8 L140.4,1089.1 L142.4,1091.5 L144.4,1094.0 L146.4,1096.5 L148.4,1099.0 L150.4,1101.6 L152.4,1104.3 L154.4,1107.0 L156.4,1109.7 L158.4,1112.4 L160.4,1115.2 L162.4,1118.1 L164.4,1120.9 L166.4,1123.7 L168.4,1126.6 L170.4,1129.4 L172.4,1132.3 L174.4,1135.1 L176.4,1137.8 L178.4,1140.6 L180.4,1143.3 L182.4,1145.9 L184.4,1148.5 L186.4,1151.0 L188.4,1153.5 L190.4,1155.8 L192.4,1158.1 L194.4,1160.3 L196.4,1162.3 L198.4,1164.3 L200.4,1166.1 L202.4,1167.8 L204.4,1169.4 L206.4,1170.9 L208.4,1172.3 L210.4,1173.6 L212.4,1174.7 L214.4,1175.8 L216.4,1176.8 L218.4,1177.6 L220.4,1178.4 L222.4,1179.1 L224.4,1179.7 L226.4,1180.3 L228.4,1180.7 L230.4,1181.1 L232.4,1181.4 L234.4,1181.6 L236.4,1181.8 L238.4,1181.9 L240.4,1181.9 L242.4,1181.9 L244.4,1181.8 L246.4,1181.7 L248.4,1181.6 L250.4,1181.4 L252.4,1181.1 L254.4,1180.8 L256.4,1180.5 L258.4,1180.1 L260.4,1179.7 L262.4,1179.3 L264.4,1178.9 L266.4,1178.4 L268.4,1177.9 L270.4,1177.4 L272.4,1176.9 L274.4,1176.4 L276.4,1175.9 L278.4,1175.4 L280.4,1174.8 L282.4,1174.3 L284.4,1173.8 L286.4,1173.3 L288.4,1172.8 L290.4,1172.3 L292.4,1171.8 L294.4,1171.4 L296.4,1170.9 L298.4,1170.5 L300.4,1170.2 L302.4,1169.8 L304.4,1169.5 L306.4,1169.2 L308.4,1169.0 L310.4,1168.8 L312.4,1168.7 L314.4,1168.6 L316.4,1168.6 L318.4,1168.6 L320.4,1168.6 L322.4,1168.8 L324.4,1169.0 L326.4,1169.2 L328.4,1169.6 L330.4,1170.0 L332.4,1170.4 L334.4,1170.9 L336.4,1171.5 L338.4,1172.1 L340.4,1172.8 L342.4,1173.5 L344.4,1174.3 L346.4,1175.2 L348.4,1176.1 L350.4,1177.1 L352.4,1178.1 L354.4,1179.1 L356.4,1180.3 L358.4,1181.5 L360.4,1182.7 L362.4,1184.0 L364.4,1185.3 L366.4,1186.7 L368.4,1188.2 L370.4,1189.7 L372.4,1191.2 L374.4,1192.8 L376.4,1194.4 L378.4,1196.1 L380.4,1197.8 L382.4,1199.6 L384.4,1201.4 L386.4,1203.3 L388.4,1205.2 L390.4,1207.2 L392.4,1209.2 L394.4,1211.2 L396.4,1213.3 L398.4,1215.4 L400.4,1217.6 L402.4,1219.8 L404.4,1222.1 L406.4,1224.4 L408.4,1226.7 L410.4,1229.0 L412.4,1231.4 L414.4,1233.9 L416.4,1236.3 L418.4,1238.8 L420.4,1241.3 L422.4,1243.9 L424.4,1246.4 L426.4,1249.0 L428.4,1251.6 L430.4,1254.3 L432.4,1256.9 L434.4,1259.6 L436.4,1262.3 L438.4,1265.0 L440.4,1267.7 L442.4,1270.4 L444.4,1273.2 L446.4,1275.9 L448.4,1278.7 L450.4,1281.5 L452.4,1284.3 L454.4,1287.0 L456.4,1289.8 L458.4,1292.6 L460.4,1295.4 L462.4,1298.2 L464.4,1301.0 L466.4,1303.8 L468.4,1306.5 L470.4,1309.3 L472.4,1312.1 L474.4,1314.8 L476.4,1317.6 L478.4,1320.3 L480.4,1323.0 L482.4,1325.7 L484.4,1328.4 L486.4,1331.1 L488.4,1333.8 L490.4,1336.4 L492.4,1339.0 L494.4,1341.5 L496.4,1344.0 L498.4,1346.5 L500.4,1349.0 L502.4,1351.4 L504.4,1353.7 L506.4,1356.1 L508.4,1358.3 L510.4,1360.5 L512.4,1362.7 L514.4,1364.8 L516.4,1366.8 L518.4,1368.7 L520.4,1370.6 L522.4,1372.4 L524.4,1374.2 L526.4,1375.9 L528.4,1377.5 L530.4,1379.0 L532.4,1380.5 L534.4,1382.0 L536.4,1383.4 L538.4,1384.7 L540.4,1386.0 L542.4,1387.2 L544.4,1388.4 L546.4,1389.6 L548.4,1390.7 L550.4,1391.7 L552.4,1392.8 L554.4,1393.8 L556.4,1394.7 L558.4,1395.7 L560.4,1396.6 L562.4,1397.4 L564.4,1398.3 L566.4,1399.1 L568.4,1399.9 L570.4,1400.7 L572.4,1401.5 L574.4,1402.2 L576.4,1403.0 L578.4,1403.7 L580.4,1404.4 L582.4,1405.0 L584.4,1405.7 L586.4,1406.3 L588.4,1406.9 L590.4,1407.5 L592.4,1408.1 L594.4,1408.7 L596.4,1409.3 L598.4,1409.8 L600.4,1410.4 L602.4,1410.9 L604.4,1411.5 L606.4,1412.0 L608.4,1412.5 L610.4,1413.0 L612.4,1413.5 L614.4,1414.0 L616.4,1414.5 L618.4,1415.0 L620.4,1415.4 L622.4,1415.9 L624.4,1416.4 L626.4,1416.9 L628.4,1417.3 L630.4,1417.8 L632.4,1418.3 L634.4,1418.7 L636.4,1419.2 L638.4,1419.6 L640.4,1420.0 L642.4,1420.5 L644.4,1420.9 L646.4,1421.2 L648.4,1421.6 L650.4,1421.9 L652.4,1422.3 L654.4,1422.6 L656.4,1422.9 L658.4,1423.1 L660.4,1423.3 L662.4,1423.5 L664.4,1423.7 L666.4,1423.8 L668.4,1423.9 L670.4,1424.0 L672.4,1424.1 L674.4,1424.0 L675.7,1424.0 L688.5,1414.6" fill="none" stroke="#050505" stroke-width="2.9" stroke-linejoin="round"/>
<path d="M78.4,1055.3 L78.9,1055.1 L79.9,1054.7 L80.9,1054.3 L81.9,1054.0 L82.9,1053.7 L83.9,1053.4 L84.9,1053.1 L85.9,1052.9 L86.9,1052.7 L87.9,1052.5 L88.9,1052.4 L89.9,1052.3M100.9,1052.9 L100.9,1052.9 L101.9,1053.1 L102.9,1053.4 L103.9,1053.6 L104.9,1053.9 L105.9,1054.2 L106.9,1054.6 L107.9,1055.0 L108.9,1055.4 L109.9,1055.8 L110.9,1056.2 L111.9,1056.7 L112.4,1056.9M123.3,1063.7 L123.4,1063.7 L124.4,1064.5 L125.4,1065.3 L126.4,1066.1 L127.4,1066.9 L128.4,1067.7 L129.4,1068.6 L130.4,1069.5 L131.4,1070.4 L132.4,1071.3 L133.4,1072.3 L134.4,1073.3 L134.8,1073.7M144.8,1084.6 L144.9,1084.7 L145.9,1085.9 L146.9,1087.1 L147.9,1088.3 L148.9,1089.6 L149.9,1090.9 L150.9,1092.2 L151.9,1093.5 L152.9,1094.8 L153.9,1096.1M161.7,1107.1 L161.9,1107.4 L162.9,1108.9 L163.9,1110.3 L164.9,1111.8 L165.9,1113.3 L166.9,1114.8 L167.9,1116.3 L168.9,1117.8 L169.4,1118.6M176.7,1129.5 L176.9,1129.8 L177.9,1131.2 L178.9,1132.7 L179.9,1134.2 L180.9,1135.7 L181.9,1137.1 L182.9,1138.5 L183.9,1140.0 L184.6,1141.0M192.7,1152.0 L192.9,1152.2 L193.9,1153.5 L194.9,1154.7 L195.9,1155.9 L196.9,1157.1 L197.9,1158.3 L198.9,1159.4 L199.9,1160.6 L200.9,1161.6 L201.9,1162.7 L202.6,1163.5M213.6,1172.7 L213.9,1173.0 L214.9,1173.6 L215.9,1174.2 L216.9,1174.8 L217.9,1175.3 L218.9,1175.9 L219.9,1176.4 L220.9,1176.8 L221.9,1177.3 L222.9,1177.7 L223.9,1178.1 L224.9,1178.4 L225.1,1178.5M236.0,1180.9 L236.4,1180.9 L237.4,1181.0 L238.4,1181.1 L239.4,1181.1 L240.4,1181.2 L241.4,1181.2 L242.4,1181.2 L243.4,1181.2 L244.4,1181.1 L245.4,1181.1 L246.4,1181.0 L247.4,1180.9 L247.5,1180.9M258.5,1179.3 L258.9,1179.2 L259.9,1179.0 L260.9,1178.8 L261.9,1178.6 L262.9,1178.4 L263.9,1178.1 L264.9,1177.9 L265.9,1177.6 L266.9,1177.4 L267.9,1177.2 L268.9,1176.9 L269.9,1176.6 L270.0,1176.6M280.9,1173.9 L281.4,1173.7 L282.4,1173.5 L283.4,1173.3 L284.4,1173.0 L285.4,1172.8 L286.4,1172.6 L287.4,1172.4 L288.4,1172.2 L289.4,1172.0 L290.4,1171.8 L291.4,1171.7 L292.4,1171.5 L292.4,1171.5M303.4,1170.6 L303.4,1170.6 L304.4,1170.6 L305.4,1170.6 L306.4,1170.7 L307.4,1170.7 L308.4,1170.8 L309.4,1170.9 L310.4,1171.0 L311.4,1171.2 L312.4,1171.4 L313.4,1171.6 L314.4,1171.8 L314.9,1171.9M325.8,1175.8 L325.9,1175.8 L326.9,1176.3 L327.9,1176.7 L328.9,1177.2 L329.9,1177.7 L330.9,1178.3 L331.9,1178.8 L332.9,1179.3 L333.9,1179.9 L334.9,1180.5 L335.9,1181.1 L336.9,1181.6 L337.3,1181.9M348.3,1188.8 L348.4,1188.9 L349.4,1189.5 L350.4,1190.2 L351.4,1190.9 L352.4,1191.5 L353.4,1192.2 L354.4,1192.9 L355.4,1193.6 L356.4,1194.3 L357.4,1195.0 L358.4,1195.7 L359.4,1196.4 L359.8,1196.6M370.7,1204.9 L370.9,1205.0 L371.9,1205.8 L372.9,1206.7 L373.9,1207.5 L374.9,1208.3 L375.9,1209.2 L376.9,1210.0 L377.9,1210.9 L378.9,1211.8 L379.9,1212.7 L380.9,1213.6 L381.9,1214.5 L382.2,1214.8M392.9,1225.6 L393.4,1226.1 L394.4,1227.2 L395.4,1228.3 L396.4,1229.4 L397.4,1230.5 L398.4,1231.7 L399.4,1232.9 L400.4,1234.1 L401.4,1235.3 L402.4,1236.5 L402.8,1237.1M411.3,1248.0 L411.4,1248.2 L412.4,1249.5 L413.4,1250.9 L414.4,1252.2 L415.4,1253.6 L416.4,1255.0 L417.4,1256.4 L418.4,1257.8 L419.4,1259.2 L419.7,1259.5M427.4,1270.5 L427.9,1271.2 L428.9,1272.6 L429.9,1274.0 L430.9,1275.4 L431.9,1276.8 L432.9,1278.2 L433.9,1279.6 L434.9,1281.0 L435.6,1282.0M443.5,1292.9 L443.9,1293.4 L444.9,1294.8 L445.9,1296.1 L446.9,1297.5 L447.9,1298.8 L448.9,1300.2 L449.9,1301.5 L450.9,1302.8 L451.9,1304.1 L452.1,1304.4M460.6,1315.4 L460.9,1315.7 L461.9,1316.9 L462.9,1318.2 L463.9,1319.4 L464.9,1320.7 L465.9,1321.9 L466.9,1323.1 L467.9,1324.3 L468.9,1325.5 L469.9,1326.7 L470.0,1326.9M479.6,1337.8 L479.9,1338.2 L480.9,1339.3 L481.9,1340.4 L482.9,1341.5 L483.9,1342.5 L484.9,1343.6 L485.9,1344.6 L486.9,1345.7 L487.9,1346.7 L488.9,1347.7 L489.9,1348.8 L490.5,1349.3M501.4,1359.7 L501.9,1360.1 L502.9,1361.0 L503.9,1361.8 L504.9,1362.7 L505.9,1363.5 L506.9,1364.3 L507.9,1365.1 L508.9,1366.0 L509.9,1366.7 L510.9,1367.5 L511.9,1368.3 L512.9,1369.0 L512.9,1369.0M523.9,1376.5 L523.9,1376.6 L524.9,1377.2 L525.9,1377.8 L526.9,1378.4 L527.9,1379.0 L528.9,1379.6 L529.9,1380.1 L530.9,1380.7 L531.9,1381.2 L532.9,1381.8 L533.9,1382.3 L534.9,1382.8 L535.4,1383.1M546.3,1388.2 L546.4,1388.3 L547.4,1388.7 L548.4,1389.1 L549.4,1389.5 L550.4,1389.9 L551.4,1390.3 L552.4,1390.7 L553.4,1391.1 L554.4,1391.5 L555.4,1391.8 L556.4,1392.2 L557.4,1392.6 L557.8,1392.7M568.8,1396.3 L568.9,1396.3 L569.9,1396.6 L570.9,1396.9 L571.9,1397.2 L572.9,1397.5 L573.9,1397.8 L574.9,1398.1 L575.9,1398.3 L576.9,1398.6 L577.9,1398.9 L578.9,1399.2 L579.9,1399.4 L580.3,1399.5M591.2,1402.3 L591.4,1402.3 L592.4,1402.6 L593.4,1402.8 L594.4,1403.0 L595.4,1403.3 L596.4,1403.5 L597.4,1403.8 L598.4,1404.0 L599.4,1404.2 L600.4,1404.5 L601.4,1404.7 L602.4,1405.0 L602.7,1405.0M613.7,1407.7 L613.9,1407.7 L614.9,1408.0 L615.9,1408.2 L616.9,1408.4 L617.9,1408.7 L618.9,1408.9 L619.9,1409.1 L620.9,1409.3 L621.9,1409.6 L622.9,1409.8 L623.9,1410.0 L624.9,1410.3 L625.2,1410.3M636.1,1412.7 L636.4,1412.7 L637.4,1412.9 L638.4,1413.1 L639.4,1413.3 L640.4,1413.5 L641.4,1413.7 L642.4,1413.9 L643.4,1414.1 L644.4,1414.3 L645.4,1414.4 L646.4,1414.6 L647.4,1414.8 L647.6,1414.8M658.6,1416.5 L658.9,1416.6 L659.9,1416.7 L660.9,1416.9 L661.9,1417.0 L662.9,1417.1 L663.9,1417.2 L664.9,1417.3 L665.9,1417.5 L666.9,1417.6 L667.9,1417.7 L668.9,1417.8 L669.9,1417.9 L670.1,1417.9M681.0,1414.8 L681.0,1414.8 L682.0,1413.9 L683.0,1413.0 L684.0,1412.2 L685.0,1411.3 L686.0,1410.4 L687.0,1409.5 L688.0,1408.6 L688.5,1408.2" fill="none" stroke="#050505" stroke-width="2.9" stroke-linejoin="round" stroke-linecap="butt"/>
<path d="M78.4,1238.8 L80.4,1239.1 L82.4,1239.3 L84.4,1239.5 L86.4,1239.7 L88.4,1239.9 L90.4,1240.1 L92.4,1240.3 L94.4,1240.5 L96.4,1240.7 L98.4,1240.9 L100.4,1241.0 L102.4,1241.2 L104.4,1241.4 L106.4,1241.5 L108.4,1241.7 L110.4,1241.8 L112.4,1242.0 L114.4,1242.1 L116.4,1242.3 L118.4,1242.4 L120.4,1242.5 L122.4,1242.6 L124.4,1242.8 L126.4,1242.9 L128.4,1243.0 L130.4,1243.1 L132.4,1243.2 L134.4,1243.3 L136.4,1243.3 L138.4,1243.4 L140.4,1243.5 L142.4,1243.6 L144.4,1243.6 L146.4,1243.7 L148.4,1243.8 L150.4,1243.8 L152.4,1243.9 L154.4,1243.9 L156.4,1243.9 L158.4,1244.0 L160.4,1244.0 L162.4,1244.0 L164.4,1244.0 L166.4,1244.0 L168.4,1244.0 L170.4,1244.0 L172.4,1244.0 L174.4,1244.0 L176.4,1244.0 L178.4,1244.0 L180.4,1244.0 L182.4,1244.0 L184.4,1243.9 L186.4,1243.9 L188.4,1243.8 L190.4,1243.8 L192.4,1243.7 L194.4,1243.7 L196.4,1243.6 L198.4,1243.6 L200.4,1243.5 L202.4,1243.4 L204.4,1243.3 L206.4,1243.2 L208.4,1243.2 L210.4,1243.1 L212.4,1243.0 L214.4,1242.9 L216.4,1242.7 L218.4,1242.6 L220.4,1242.5 L222.4,1242.4 L224.4,1242.3 L226.4,1242.1 L228.4,1242.0 L230.4,1241.8 L232.4,1241.7 L234.4,1241.5 L236.4,1241.4 L238.4,1241.2 L240.4,1241.1 L242.4,1240.9 L244.4,1240.7 L246.4,1240.6 L248.4,1240.4 L250.4,1240.2 L252.4,1240.0 L254.4,1239.8 L256.4,1239.7 L258.4,1239.5 L260.4,1239.3 L262.4,1239.1 L264.4,1238.9 L266.4,1238.7 L268.4,1238.5 L270.4,1238.3 L272.4,1238.2 L274.4,1238.0 L276.4,1237.8 L278.4,1237.6 L280.4,1237.4 L282.4,1237.2 L284.4,1237.0 L286.4,1236.8 L288.4,1236.6 L290.4,1236.5 L292.4,1236.3 L294.4,1236.1 L296.4,1235.9 L298.4,1235.7 L300.4,1235.6 L302.4,1235.4 L304.4,1235.2 L306.4,1235.1 L308.4,1234.9 L310.4,1234.8 L312.4,1234.6 L314.4,1234.5 L316.4,1234.3 L318.4,1234.2 L320.4,1234.0 L322.4,1233.9 L324.4,1233.8 L326.4,1233.7 L328.4,1233.5 L330.4,1233.4 L332.4,1233.3 L334.4,1233.2 L336.4,1233.1 L338.4,1233.0 L340.4,1233.0 L342.4,1232.9 L344.4,1232.8 L346.4,1232.8 L348.4,1232.7 L350.4,1232.7 L352.4,1232.7 L354.4,1232.6 L356.4,1232.6 L358.4,1232.6 L360.4,1232.6 L362.4,1232.6 L364.4,1232.6 L366.4,1232.6 L368.4,1232.7 L370.4,1232.7 L372.4,1232.8 L374.4,1232.8 L376.4,1232.9 L378.4,1233.0 L380.4,1233.1 L382.4,1233.2 L384.4,1233.3 L386.4,1233.4 L388.4,1233.5 L390.4,1233.6 L392.4,1233.8 L394.4,1233.9 L396.4,1234.1 L398.4,1234.2 L400.4,1234.4 L402.4,1234.6 L404.4,1234.8 L406.4,1234.9 L408.4,1235.1 L410.4,1235.3 L412.4,1235.6 L414.4,1235.8 L416.4,1236.0 L418.4,1236.2 L420.4,1236.5 L422.4,1236.7 L424.4,1237.0 L426.4,1237.2 L428.4,1237.5 L430.4,1237.8 L432.4,1238.1 L434.4,1238.4 L436.4,1238.7 L438.4,1239.0 L440.4,1239.3 L442.4,1239.6 L444.4,1239.9 L446.4,1240.2 L448.4,1240.6 L450.4,1240.9 L452.4,1241.3 L454.4,1241.6 L456.4,1242.0 L458.4,1242.3 L460.4,1242.7 L462.4,1243.0 L464.4,1243.4 L466.4,1243.8 L468.4,1244.2 L470.4,1244.6 L472.4,1244.9 L474.4,1245.3 L476.4,1245.7 L478.4,1246.1 L480.4,1246.5 L482.4,1246.9 L484.4,1247.3 L486.4,1247.7 L488.4,1248.1 L490.4,1248.5 L492.4,1248.9 L494.4,1249.3 L496.4,1249.7 L498.4,1250.1 L500.4,1250.5 L502.4,1250.9 L504.4,1251.3 L506.4,1251.7 L508.4,1252.1 L510.4,1252.5 L512.4,1252.9 L514.4,1253.3 L516.4,1253.7 L518.4,1254.1 L520.4,1254.5 L522.4,1254.9 L524.4,1255.2 L526.4,1255.6 L528.4,1256.0 L530.4,1256.4 L532.4,1256.7 L534.4,1257.1 L536.4,1257.5 L538.4,1257.8 L540.4,1258.2 L542.4,1258.5 L544.4,1258.8 L546.4,1259.2 L548.4,1259.5 L550.4,1259.8 L552.4,1260.2 L554.4,1260.5 L556.4,1260.8 L558.4,1261.1 L560.4,1261.4 L562.4,1261.7 L564.4,1261.9 L566.4,1262.2 L568.4,1262.5 L570.4,1262.8 L572.4,1263.0 L574.4,1263.3 L576.4,1263.5 L578.4,1263.8 L580.4,1264.0 L582.4,1264.3 L584.4,1264.5 L586.4,1264.7 L588.4,1265.0 L590.4,1265.2 L592.4,1265.4 L594.4,1265.6 L596.4,1265.8 L598.4,1266.0 L600.4,1266.2 L602.4,1266.3 L604.4,1266.5 L606.4,1266.7 L608.4,1266.9 L610.4,1267.0 L612.4,1267.2 L614.4,1267.3 L616.4,1267.5 L618.4,1267.6 L620.4,1267.8 L622.4,1267.9 L624.4,1268.0 L626.4,1268.1 L628.4,1268.3 L630.4,1268.4 L632.4,1268.5 L634.4,1268.6 L636.4,1268.7 L638.4,1268.8 L640.4,1268.8 L642.4,1268.9 L644.4,1269.0 L646.4,1269.1 L648.4,1269.1 L650.4,1269.2 L652.4,1269.2 L654.4,1269.3 L656.4,1269.3 L658.4,1269.4 L660.4,1269.4 L662.4,1269.4 L664.4,1269.4 L666.4,1269.5 L668.4,1269.5 L670.4,1269.5 L672.4,1269.5 L674.4,1269.5 L676.4,1269.5 L678.4,1269.5 L680.4,1269.4 L682.4,1269.4 L684.4,1269.4 L686.4,1269.4 L688.0,1269.3" fill="none" stroke="#505050" stroke-width="2.4" stroke-linejoin="round"/>
<path d="M78.4,1234.9 L78.9,1235.0 L79.9,1235.1 L80.9,1235.2 L81.9,1235.3 L82.9,1235.4 L83.9,1235.5 L84.9,1235.6 L85.9,1235.8 L86.9,1235.9 L87.9,1236.0 L88.9,1236.1 L89.9,1236.2M100.9,1237.2 L100.9,1237.2 L101.9,1237.2 L102.9,1237.3 L103.9,1237.4 L104.9,1237.5 L105.9,1237.6 L106.9,1237.6 L107.9,1237.7 L108.9,1237.8 L109.9,1237.9 L110.9,1237.9 L111.9,1238.0 L112.4,1238.0M123.3,1238.7 L123.4,1238.7 L124.4,1238.8 L125.4,1238.8 L126.4,1238.9 L127.4,1238.9 L128.4,1239.0 L129.4,1239.0 L130.4,1239.1 L131.4,1239.1 L132.4,1239.2 L133.4,1239.2 L134.4,1239.2 L134.8,1239.3M145.8,1239.6 L145.9,1239.6 L146.9,1239.7 L147.9,1239.7 L148.9,1239.7 L149.9,1239.7 L150.9,1239.8 L151.9,1239.8 L152.9,1239.8 L153.9,1239.8 L154.9,1239.8 L155.9,1239.9 L156.9,1239.9 L157.2,1239.9M168.2,1240.0 L168.4,1240.0 L169.4,1240.0 L170.4,1240.0 L171.4,1240.0 L172.4,1240.0 L173.4,1240.0 L174.4,1240.0 L175.4,1240.0 L176.4,1240.0 L177.4,1240.0 L178.4,1239.9 L179.4,1239.9 L179.7,1239.9M190.7,1239.8 L190.9,1239.8 L191.9,1239.8 L192.9,1239.7 L193.9,1239.7 L194.9,1239.7 L195.9,1239.7 L196.9,1239.7 L197.9,1239.6 L198.9,1239.6 L199.9,1239.6 L200.9,1239.5 L201.9,1239.5 L202.2,1239.5M213.1,1239.1 L213.4,1239.1 L214.4,1239.1 L215.4,1239.1 L216.4,1239.0 L217.4,1239.0 L218.4,1238.9 L219.4,1238.9 L220.4,1238.8 L221.4,1238.8 L222.4,1238.8 L223.4,1238.7 L224.4,1238.7 L224.6,1238.7M235.5,1238.1 L235.9,1238.1 L236.9,1238.0 L237.9,1238.0 L238.9,1237.9 L239.9,1237.8 L240.9,1237.8 L241.9,1237.7 L242.9,1237.7 L243.9,1237.6 L244.9,1237.5 L245.9,1237.5 L246.9,1237.4 L247.0,1237.4M258.0,1236.7 L258.4,1236.7 L259.4,1236.6 L260.4,1236.5 L261.4,1236.5 L262.4,1236.4 L263.4,1236.3 L264.4,1236.3 L265.4,1236.2 L266.4,1236.1 L267.4,1236.1 L268.4,1236.0 L269.4,1235.9 L269.5,1235.9M280.4,1235.2 L280.9,1235.1 L281.9,1235.1 L282.9,1235.0 L283.9,1234.9 L284.9,1234.8 L285.9,1234.8 L286.9,1234.7 L287.9,1234.6 L288.9,1234.6 L289.9,1234.5 L290.9,1234.4 L291.9,1234.4 L291.9,1234.4M302.9,1233.7 L302.9,1233.7 L303.9,1233.6 L304.9,1233.5 L305.9,1233.5 L306.9,1233.4 L307.9,1233.4 L308.9,1233.3 L309.9,1233.2 L310.9,1233.2 L311.9,1233.1 L312.9,1233.1 L313.9,1233.0 L314.4,1233.0M325.3,1232.4 L325.4,1232.4 L326.4,1232.4 L327.4,1232.3 L328.4,1232.3 L329.4,1232.2 L330.4,1232.2 L331.4,1232.2 L332.4,1232.1 L333.4,1232.1 L334.4,1232.0 L335.4,1232.0 L336.4,1232.0 L336.8,1232.0M347.8,1231.7 L347.9,1231.7 L348.9,1231.6 L349.9,1231.6 L350.9,1231.6 L351.9,1231.6 L352.9,1231.6 L353.9,1231.6 L354.9,1231.5 L355.9,1231.5 L356.9,1231.5 L357.9,1231.5 L358.9,1231.5 L359.3,1231.5M370.2,1231.6 L370.4,1231.6 L371.4,1231.6 L372.4,1231.6 L373.4,1231.6 L374.4,1231.7 L375.4,1231.7 L376.4,1231.7 L377.4,1231.7 L378.4,1231.8 L379.4,1231.8 L380.4,1231.8 L381.4,1231.9 L381.7,1231.9M392.7,1232.4 L392.9,1232.4 L393.9,1232.5 L394.9,1232.5 L395.9,1232.6 L396.9,1232.6 L397.9,1232.7 L398.9,1232.8 L399.9,1232.8 L400.9,1232.9 L401.9,1233.0 L402.9,1233.1 L403.9,1233.1 L404.2,1233.2M415.1,1234.2 L415.4,1234.2 L416.4,1234.3 L417.4,1234.4 L418.4,1234.5 L419.4,1234.6 L420.4,1234.7 L421.4,1234.8 L422.4,1235.0 L423.4,1235.1 L424.4,1235.2 L425.4,1235.3 L426.4,1235.4 L426.6,1235.5M437.6,1237.0 L437.9,1237.0 L438.9,1237.1 L439.9,1237.3 L440.9,1237.5 L441.9,1237.6 L442.9,1237.8 L443.9,1237.9 L444.9,1238.1 L445.9,1238.2 L446.9,1238.4 L447.9,1238.6 L448.9,1238.8 L449.1,1238.8M460.0,1240.8 L460.4,1240.8 L461.4,1241.0 L462.4,1241.2 L463.4,1241.4 L464.4,1241.6 L465.4,1241.8 L466.4,1242.0 L467.4,1242.2 L468.4,1242.4 L469.4,1242.6 L470.4,1242.8 L471.4,1243.0 L471.5,1243.1M482.5,1245.4 L482.9,1245.5 L483.9,1245.7 L484.9,1245.9 L485.9,1246.1 L486.9,1246.3 L487.9,1246.5 L488.9,1246.8 L489.9,1247.0 L490.9,1247.2 L491.9,1247.4 L492.9,1247.6 L493.9,1247.8 L494.0,1247.9M504.9,1250.2 L505.4,1250.3 L506.4,1250.5 L507.4,1250.8 L508.4,1251.0 L509.4,1251.2 L510.4,1251.4 L511.4,1251.6 L512.4,1251.8 L513.4,1252.0 L514.4,1252.2 L515.4,1252.4 L516.4,1252.6 L516.4,1252.7M527.4,1254.8 L527.4,1254.8 L528.4,1255.0 L529.4,1255.2 L530.4,1255.4 L531.4,1255.6 L532.4,1255.8 L533.4,1256.0 L534.4,1256.1 L535.4,1256.3 L536.4,1256.5 L537.4,1256.7 L538.4,1256.9 L538.9,1256.9M549.8,1258.7 L549.9,1258.7 L550.9,1258.8 L551.9,1259.0 L552.9,1259.1 L553.9,1259.3 L554.9,1259.4 L555.9,1259.5 L556.9,1259.7 L557.9,1259.8 L558.9,1259.9 L559.9,1260.1 L560.9,1260.2 L561.3,1260.2M572.3,1261.5 L572.4,1261.5 L573.4,1261.6 L574.4,1261.7 L575.4,1261.8 L576.4,1261.9 L577.4,1262.0 L578.4,1262.1 L579.4,1262.1 L580.4,1262.2 L581.4,1262.3 L582.4,1262.4 L583.4,1262.5 L583.8,1262.5M594.7,1263.3 L594.9,1263.3 L595.9,1263.4 L596.9,1263.5 L597.9,1263.5 L598.9,1263.6 L599.9,1263.6 L600.9,1263.7 L601.9,1263.7 L602.9,1263.8 L603.9,1263.8 L604.9,1263.9 L605.9,1263.9 L606.2,1264.0M617.2,1264.4 L617.4,1264.4 L618.4,1264.4 L619.4,1264.5 L620.4,1264.5 L621.4,1264.5 L622.4,1264.6 L623.4,1264.6 L624.4,1264.6 L625.4,1264.6 L626.4,1264.7 L627.4,1264.7 L628.4,1264.7 L628.7,1264.7M639.6,1264.9 L639.9,1264.9 L640.9,1264.9 L641.9,1264.9 L642.9,1264.9 L643.9,1264.9 L644.9,1265.0 L645.9,1265.0 L646.9,1265.0 L647.9,1265.0 L648.9,1265.0 L649.9,1265.0 L650.9,1265.0 L651.1,1265.0M662.1,1265.0 L662.4,1265.0 L663.4,1265.0 L664.4,1265.0 L665.4,1265.0 L666.4,1265.0 L667.4,1265.0 L668.4,1265.0 L669.4,1265.0 L670.4,1265.0 L671.4,1264.9 L672.4,1264.9 L673.4,1264.9 L673.6,1264.9M684.5,1264.8 L684.9,1264.8 L685.9,1264.8 L686.9,1264.8 L687.9,1264.8 L688.0,1264.8" fill="none" stroke="#505050" stroke-width="2.4" stroke-linejoin="round" stroke-linecap="butt"/>
<path d="M78.4,1406.2 L80.4,1406.3 L82.4,1406.3 L84.4,1406.2 L86.4,1406.2 L88.4,1406.1 L90.4,1406.0 L92.4,1405.9 L94.4,1405.7 L96.4,1405.5 L98.4,1405.3 L100.4,1405.1 L102.4,1404.9 L104.4,1404.7 L106.4,1404.4 L108.4,1404.1 L110.4,1403.8 L112.4,1403.6 L114.4,1403.3 L116.4,1403.0 L118.4,1402.6 L120.4,1402.3 L122.4,1402.0 L124.4,1401.7 L126.4,1401.4 L128.4,1401.1 L130.4,1400.8 L132.4,1400.5 L134.4,1400.3 L136.4,1400.0 L138.4,1399.7 L140.4,1399.5 L142.4,1399.3 L144.4,1399.0 L146.4,1398.9 L148.4,1398.7 L150.4,1398.5 L152.4,1398.4 L154.4,1398.3 L156.4,1398.2 L158.4,1398.1 L160.4,1398.0 L162.4,1398.0 L164.4,1397.9 L166.4,1397.9 L168.4,1397.9 L170.4,1397.9 L172.4,1398.0 L174.4,1398.0 L176.4,1398.1 L178.4,1398.2 L180.4,1398.3 L182.4,1398.4 L184.4,1398.5 L186.4,1398.7 L188.4,1398.8 L190.4,1399.0 L192.4,1399.2 L194.4,1399.4 L196.4,1399.7 L198.4,1399.9 L200.4,1400.1 L202.4,1400.4 L204.4,1400.7 L206.4,1401.0 L208.4,1401.3 L210.4,1401.6 L212.4,1402.0 L214.4,1402.3 L216.4,1402.7 L218.4,1403.1 L220.4,1403.5 L222.4,1403.9 L224.4,1404.3 L226.4,1404.7 L228.4,1405.2 L230.4,1405.6 L232.4,1406.1 L234.4,1406.6 L236.4,1407.1 L238.4,1407.6 L240.4,1408.1 L242.4,1408.6 L244.4,1409.1 L246.4,1409.7 L248.4,1410.3 L250.4,1410.8 L252.4,1411.4 L254.4,1412.0 L256.4,1412.6 L258.4,1413.2 L260.4,1413.9 L262.4,1414.5 L264.4,1415.1 L266.4,1415.8 L268.4,1416.5 L270.4,1417.1 L272.4,1417.8 L274.4,1418.5 L276.4,1419.2 L278.4,1419.8 L280.4,1420.5 L282.4,1421.2 L284.4,1421.8 L286.4,1422.5 L288.4,1423.1 L290.4,1423.7 L292.4,1424.4 L294.4,1425.0 L296.4,1425.5 L298.4,1426.1 L300.4,1426.6 L302.4,1427.1 L304.4,1427.6 L306.4,1428.1 L308.4,1428.5 L310.4,1428.9 L312.4,1429.3 L314.4,1429.6 L316.4,1429.9 L318.4,1430.2 L320.4,1430.4 L322.4,1430.6 L324.4,1430.7 L326.4,1430.8 L328.4,1430.8 L330.4,1430.8 L332.4,1430.7 L334.4,1430.6 L336.4,1430.5 L338.4,1430.3 L340.4,1430.0 L342.4,1429.7 L344.4,1429.4 L346.4,1429.0 L348.4,1428.6 L350.4,1428.2 L352.4,1427.8 L354.4,1427.3 L356.4,1426.8 L358.4,1426.3 L360.4,1425.8 L362.4,1425.3 L364.4,1424.7 L366.4,1424.2 L368.4,1423.6 L370.4,1423.1 L372.4,1422.6 L374.4,1422.0 L376.4,1421.5 L378.4,1421.0 L380.4,1420.5 L382.4,1420.0 L384.4,1419.5 L386.4,1419.0 L388.4,1418.5 L390.4,1417.9 L392.4,1417.4 L394.4,1416.9 L396.4,1416.4 L398.4,1415.9 L400.4,1415.3 L402.4,1414.8 L404.4,1414.2 L406.4,1413.7 L408.4,1413.1 L410.4,1412.5 L412.4,1411.9 L414.4,1411.3 L416.4,1410.7 L418.4,1410.0 L420.4,1409.4 L422.4,1408.7 L424.4,1408.0 L426.4,1407.2 L428.4,1406.5 L430.4,1405.7 L432.4,1404.9 L434.4,1404.1 L436.4,1403.2 L438.4,1402.4 L440.4,1401.5 L442.4,1400.5 L444.4,1399.5 L446.4,1398.5 L448.4,1397.5 L450.4,1396.4 L452.4,1395.3 L454.4,1394.2 L456.4,1393.0 L458.4,1391.8 L460.4,1390.5 L462.4,1389.2 L464.4,1387.9 L466.4,1386.5 L468.4,1385.1 L470.4,1383.7 L472.4,1382.2 L474.4,1380.7 L476.4,1379.1 L478.4,1377.6 L480.4,1376.0 L482.4,1374.4 L484.4,1372.8 L486.4,1371.2 L488.4,1369.5 L490.4,1367.9 L492.4,1366.2 L494.4,1364.5 L496.4,1362.9 L498.4,1361.2 L500.4,1359.5 L502.4,1357.8 L504.4,1356.2 L506.4,1354.5 L508.4,1352.8 L510.4,1351.2 L512.4,1349.5 L514.4,1347.9 L516.4,1346.3 L518.4,1344.7 L520.4,1343.1 L522.4,1341.6 L524.4,1340.0 L526.4,1338.5 L528.4,1337.0 L530.4,1335.5 L532.4,1334.0 L534.4,1332.6 L536.4,1331.1 L538.4,1329.7 L540.4,1328.3 L542.4,1326.9 L544.4,1325.6 L546.4,1324.2 L548.4,1322.9 L550.4,1321.6 L552.4,1320.3 L554.4,1319.0 L556.4,1317.8 L558.4,1316.6 L560.4,1315.4 L562.4,1314.2 L564.4,1313.1 L566.4,1311.9 L568.4,1310.8 L570.4,1309.7 L572.4,1308.7 L574.4,1307.6 L576.4,1306.6 L578.4,1305.6 L580.4,1304.7 L582.4,1303.7 L584.4,1302.8 L586.4,1301.9 L588.4,1301.1 L590.4,1300.2 L592.4,1299.4 L594.4,1298.6 L596.4,1297.9 L598.4,1297.2 L600.4,1296.5 L602.4,1295.8 L604.4,1295.2 L606.4,1294.6 L608.4,1294.0 L610.4,1293.5 L612.4,1293.0 L614.4,1292.5 L616.4,1292.1 L618.4,1291.7 L620.4,1291.3 L622.4,1290.9 L624.4,1290.6 L626.4,1290.3 L628.4,1290.0 L630.4,1289.8 L632.4,1289.5 L634.4,1289.3 L636.4,1289.1 L638.4,1288.9 L640.4,1288.8 L642.4,1288.6 L644.4,1288.4 L646.4,1288.3 L648.4,1288.1 L650.4,1288.0 L652.4,1287.8 L654.4,1287.7 L656.4,1287.5 L658.4,1287.3 L660.4,1287.0 L662.4,1286.7 L664.4,1286.4 L666.4,1286.1 L668.4,1285.7 L670.4,1285.3 L672.4,1284.8 L674.4,1284.3 L676.4,1283.7 L678.4,1283.0 L680.4,1282.3 L682.4,1281.5 L684.4,1280.7 L686.4,1279.7 L687.5,1279.2" fill="none" stroke="#a6a6a6" stroke-width="2.4" stroke-linejoin="round"/>
<path d="M78.4,1395.9 L78.9,1395.8 L79.9,1395.7 L80.9,1395.7 L81.9,1395.6 L82.9,1395.5 L83.9,1395.4 L84.9,1395.3 L85.9,1395.2 L86.9,1395.1 L87.9,1395.0 L88.9,1394.9 L89.9,1394.8M100.9,1393.9 L100.9,1393.9 L101.9,1393.8 L102.9,1393.8 L103.9,1393.7 L104.9,1393.6 L105.9,1393.5 L106.9,1393.5 L107.9,1393.4 L108.9,1393.3 L109.9,1393.3 L110.9,1393.2 L111.9,1393.1 L112.4,1393.1M123.3,1392.4 L123.4,1392.4 L124.4,1392.4 L125.4,1392.3 L126.4,1392.3 L127.4,1392.2 L128.4,1392.2 L129.4,1392.2 L130.4,1392.1 L131.4,1392.1 L132.4,1392.0 L133.4,1392.0 L134.4,1392.0 L134.8,1392.0M145.8,1391.7 L145.9,1391.7 L146.9,1391.7 L147.9,1391.7 L148.9,1391.7 L149.9,1391.7 L150.9,1391.7 L151.9,1391.7 L152.9,1391.7 L153.9,1391.7 L154.9,1391.7 L155.9,1391.7 L156.9,1391.8 L157.2,1391.8M168.2,1392.1 L168.4,1392.1 L169.4,1392.1 L170.4,1392.2 L171.4,1392.3 L172.4,1392.3 L173.4,1392.4 L174.4,1392.4 L175.4,1392.5 L176.4,1392.6 L177.4,1392.6 L178.4,1392.7 L179.4,1392.8 L179.7,1392.8M190.7,1393.9 L190.9,1393.9 L191.9,1394.0 L192.9,1394.1 L193.9,1394.3 L194.9,1394.4 L195.9,1394.5 L196.9,1394.6 L197.9,1394.8 L198.9,1394.9 L199.9,1395.1 L200.9,1395.2 L201.9,1395.4 L202.2,1395.4M213.1,1397.3 L213.4,1397.4 L214.4,1397.6 L215.4,1397.8 L216.4,1398.0 L217.4,1398.2 L218.4,1398.4 L219.4,1398.7 L220.4,1398.9 L221.4,1399.1 L222.4,1399.4 L223.4,1399.6 L224.4,1399.8 L224.6,1399.9M235.5,1402.8 L235.9,1402.9 L236.9,1403.2 L237.9,1403.5 L238.9,1403.8 L239.9,1404.2 L240.9,1404.5 L241.9,1404.8 L242.9,1405.1 L243.9,1405.5 L244.9,1405.8 L245.9,1406.1 L246.9,1406.5 L247.0,1406.5M258.0,1410.3 L258.4,1410.4 L259.4,1410.8 L260.4,1411.1 L261.4,1411.4 L262.4,1411.8 L263.4,1412.1 L264.4,1412.4 L265.4,1412.8 L266.4,1413.1 L267.4,1413.4 L268.4,1413.7 L269.4,1414.0 L269.5,1414.1M280.4,1417.1 L280.9,1417.2 L281.9,1417.5 L282.9,1417.7 L283.9,1417.9 L284.9,1418.1 L285.9,1418.3 L286.9,1418.5 L287.9,1418.7 L288.9,1418.8 L289.9,1419.0 L290.9,1419.1 L291.9,1419.3 L291.9,1419.3M302.9,1420.2 L302.9,1420.2 L303.9,1420.2 L304.9,1420.2 L305.9,1420.2 L306.9,1420.3 L307.9,1420.3 L308.9,1420.3 L309.9,1420.2 L310.9,1420.2 L311.9,1420.2 L312.9,1420.2 L313.9,1420.2 L314.4,1420.1M325.3,1419.4 L325.4,1419.4 L326.4,1419.3 L327.4,1419.2 L328.4,1419.1 L329.4,1419.0 L330.4,1418.9 L331.4,1418.8 L332.4,1418.7 L333.4,1418.5 L334.4,1418.4 L335.4,1418.3 L336.4,1418.2 L336.8,1418.1M347.8,1416.6 L347.9,1416.6 L348.9,1416.5 L349.9,1416.3 L350.9,1416.2 L351.9,1416.1 L352.9,1415.9 L353.9,1415.8 L354.9,1415.7 L355.9,1415.5 L356.9,1415.4 L357.9,1415.2 L358.9,1415.1 L359.3,1415.1M370.2,1413.7 L370.4,1413.7 L371.4,1413.6 L372.4,1413.5 L373.4,1413.4 L374.4,1413.3 L375.4,1413.3 L376.4,1413.2 L377.4,1413.1 L378.4,1413.0 L379.4,1412.9 L380.4,1412.9 L381.4,1412.8 L381.7,1412.8M392.7,1412.3 L392.9,1412.2 L393.9,1412.2 L394.9,1412.1 L395.9,1412.0 L396.9,1411.9 L397.9,1411.8 L398.9,1411.7 L399.9,1411.5 L400.9,1411.4 L401.9,1411.2 L402.9,1411.0 L403.9,1410.8 L404.2,1410.7M415.1,1407.4 L415.4,1407.3 L416.4,1406.9 L417.4,1406.5 L418.4,1406.0 L419.4,1405.6 L420.4,1405.1 L421.4,1404.7 L422.4,1404.2 L423.4,1403.7 L424.4,1403.2 L425.4,1402.7 L426.4,1402.1 L426.6,1402.0M437.6,1395.5 L437.9,1395.3 L438.9,1394.6 L439.9,1393.9 L440.9,1393.3 L441.9,1392.6 L442.9,1391.9 L443.9,1391.2 L444.9,1390.5 L445.9,1389.7 L446.9,1389.0 L447.9,1388.3 L448.9,1387.6 L449.1,1387.4M460.0,1378.9 L460.4,1378.6 L461.4,1377.8 L462.4,1377.0 L463.4,1376.2 L464.4,1375.4 L465.4,1374.6 L466.4,1373.8 L467.4,1372.9 L468.4,1372.1 L469.4,1371.3 L470.4,1370.5 L471.4,1369.6 L471.5,1369.5M482.5,1360.3 L482.9,1360.0 L483.9,1359.2 L484.9,1358.3 L485.9,1357.5 L486.9,1356.7 L487.9,1355.8 L488.9,1355.0 L489.9,1354.2 L490.9,1353.4 L491.9,1352.5 L492.9,1351.7 L493.9,1350.9 L494.0,1350.8M504.9,1342.2 L505.4,1341.8 L506.4,1341.0 L507.4,1340.3 L508.4,1339.5 L509.4,1338.8 L510.4,1338.0 L511.4,1337.3 L512.4,1336.5 L513.4,1335.8 L514.4,1335.0 L515.4,1334.3 L516.4,1333.6 L516.4,1333.5M527.4,1325.9 L527.4,1325.9 L528.4,1325.2 L529.4,1324.6 L530.4,1323.9 L531.4,1323.3 L532.4,1322.6 L533.4,1322.0 L534.4,1321.3 L535.4,1320.7 L536.4,1320.1 L537.4,1319.5 L538.4,1318.9 L538.9,1318.6M549.8,1312.3 L549.9,1312.3 L550.9,1311.7 L551.9,1311.2 L552.9,1310.7 L553.9,1310.2 L554.9,1309.7 L555.9,1309.2 L556.9,1308.7 L557.9,1308.2 L558.9,1307.7 L559.9,1307.3 L560.9,1306.8 L561.3,1306.6M572.3,1302.1 L572.4,1302.1 L573.4,1301.7 L574.4,1301.3 L575.4,1301.0 L576.4,1300.6 L577.4,1300.3 L578.4,1300.0 L579.4,1299.6 L580.4,1299.3 L581.4,1299.0 L582.4,1298.7 L583.4,1298.4 L583.8,1298.3M594.7,1295.6 L594.9,1295.6 L595.9,1295.4 L596.9,1295.2 L597.9,1295.0 L598.9,1294.8 L599.9,1294.7 L600.9,1294.5 L601.9,1294.3 L602.9,1294.2 L603.9,1294.0 L604.9,1293.9 L605.9,1293.8 L606.2,1293.7M617.2,1292.8 L617.4,1292.8 L618.4,1292.8 L619.4,1292.8 L620.4,1292.7 L621.4,1292.7 L622.4,1292.7 L623.4,1292.7 L624.4,1292.7 L625.4,1292.7 L626.4,1292.7 L627.4,1292.8 L628.4,1292.8 L628.7,1292.8M639.6,1293.6 L639.9,1293.7 L640.9,1293.8 L641.9,1293.9 L642.9,1294.0 L643.9,1294.1 L644.9,1294.2 L645.9,1294.3 L646.9,1294.4 L647.9,1294.5 L648.9,1294.6 L649.9,1294.8 L650.9,1294.9 L651.1,1294.9M662.1,1295.9 L662.4,1295.9 L663.4,1296.0 L664.4,1296.0 L665.4,1296.1 L666.4,1296.1 L667.4,1296.2 L668.4,1296.2 L669.4,1296.2 L670.4,1296.2 L671.4,1296.2 L672.4,1296.2 L673.4,1296.2 L673.6,1296.2M684.5,1295.1 L684.9,1295.0 L685.9,1294.8 L686.9,1294.6 L687.9,1294.4 L688.0,1294.4" fill="none" stroke="#a6a6a6" stroke-width="2.4" stroke-linejoin="round" stroke-linecap="butt"/>
<line x1="545.1" y1="500.7" x2="598.2" y2="500.7" stroke="#050505" stroke-width="2.9"/>
<text x="603.0" y="508.7" font-size="23.4">X-Single Task</text>
<path d="M545.1,528.5 L545.6,528.5 L546.6,528.5 L547.6,528.5 L548.6,528.5 L549.6,528.5 L550.6,528.5 L551.6,528.5 L552.6,528.5 L553.6,528.5 L554.6,528.5 L555.6,528.5 L556.6,528.5M567.6,528.5 L567.6,528.5 L568.6,528.5 L569.6,528.5 L570.6,528.5 L571.6,528.5 L572.6,528.5 L573.6,528.5 L574.6,528.5 L575.6,528.5 L576.6,528.5 L577.6,528.5 L578.6,528.5 L579.1,528.5M590.0,528.5 L590.1,528.5 L591.1,528.5 L592.1,528.5 L593.1,528.5 L594.1,528.5 L595.1,528.5 L596.1,528.5 L597.1,528.5 L598.1,528.5" fill="none" stroke="#050505" stroke-width="2.9" stroke-linecap="butt"/>
<text x="603.0" y="536.5" font-size="23.4">X-Dual Task</text>
<line x1="545.1" y1="556.3" x2="598.2" y2="556.3" stroke="#505050" stroke-width="2.4"/>
<text x="603.0" y="564.3" font-size="23.4">Y-Single Task</text>
<path d="M545.1,584.1 L545.6,584.1 L546.6,584.1 L547.6,584.1 L548.6,584.1 L549.6,584.1 L550.6,584.1 L551.6,584.1 L552.6,584.1 L553.6,584.1 L554.6,584.1 L555.6,584.1 L556.6,584.1M567.6,584.1 L567.6,584.1 L568.6,584.1 L569.6,584.1 L570.6,584.1 L571.6,584.1 L572.6,584.1 L573.6,584.1 L574.6,584.1 L575.6,584.1 L576.6,584.1 L577.6,584.1 L578.6,584.1 L579.1,584.1M590.0,584.1 L590.1,584.1 L591.1,584.1 L592.1,584.1 L593.1,584.1 L594.1,584.1 L595.1,584.1 L596.1,584.1 L597.1,584.1 L598.1,584.1" fill="none" stroke="#505050" stroke-width="2.4" stroke-linecap="butt"/>
<text x="603.0" y="592.1" font-size="23.4">Y-Dual Task</text>
<line x1="545.1" y1="611.9" x2="598.2" y2="611.9" stroke="#a6a6a6" stroke-width="2.4"/>
<text x="603.0" y="619.9" font-size="23.4">Z-Single Task</text>
<path d="M545.1,639.7 L545.6,639.7 L546.6,639.7 L547.6,639.7 L548.6,639.7 L549.6,639.7 L550.6,639.7 L551.6,639.7 L552.6,639.7 L553.6,639.7 L554.6,639.7 L555.6,639.7 L556.6,639.7M567.6,639.7 L567.6,639.7 L568.6,639.7 L569.6,639.7 L570.6,639.7 L571.6,639.7 L572.6,639.7 L573.6,639.7 L574.6,639.7 L575.6,639.7 L576.6,639.7 L577.6,639.7 L578.6,639.7 L579.1,639.7M590.0,639.7 L590.1,639.7 L591.1,639.7 L592.1,639.7 L593.1,639.7 L594.1,639.7 L595.1,639.7 L596.1,639.7 L597.1,639.7 L598.1,639.7" fill="none" stroke="#a6a6a6" stroke-width="2.4" stroke-linecap="butt"/>
<text x="603.0" y="647.7" font-size="23.4">Z-Dual Task</text>
<text x="394.3" y="1469.8" font-size="22.8" text-anchor="middle">Time%</text>
</g></svg></body></html>
